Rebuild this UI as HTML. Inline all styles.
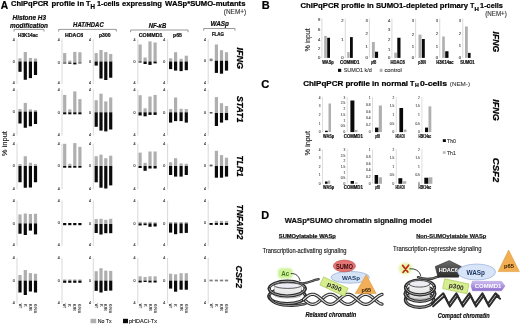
<!DOCTYPE html>
<html><head><meta charset="utf-8"><style>
html,body{margin:0;padding:0;background:#fff;}
svg{display:block;font-family:"Liberation Sans", sans-serif;filter:blur(0.35px);}
</style></head><body>
<svg width="520" height="325" viewBox="0 0 520 325">
<rect width="520" height="325" fill="#fff"/>
<text x="0.8" y="8.7" font-size="10.2" font-weight="bold" fill="#000" stroke="#000" stroke-width="0.22">A</text>
<text x="11.0" y="6.4" font-size="7.8" font-weight="bold" fill="#000" stroke="#000" stroke-width="0.22" textLength="37.5" lengthAdjust="spacingAndGlyphs">ChIPqPCR</text>
<text x="51.6" y="6.4" font-size="7.8" font-weight="bold" fill="#000" stroke="#000" stroke-width="0.22" textLength="32.5" lengthAdjust="spacingAndGlyphs">profile in</text>
<text x="86.0" y="6.4" font-size="7.8" font-weight="bold" fill="#000" stroke="#000" stroke-width="0.22" textLength="4.4" lengthAdjust="spacingAndGlyphs">T</text>
<text x="90.6" y="9.1" font-size="6.4" font-weight="bold" fill="#000" stroke="#000" stroke-width="0.22" textLength="4.5" lengthAdjust="spacingAndGlyphs">H</text>
<text x="97.0" y="6.4" font-size="7.8" font-weight="bold" fill="#000" stroke="#000" stroke-width="0.22" textLength="22.6" lengthAdjust="spacingAndGlyphs">1-cells</text>
<text x="122.0" y="6.4" font-size="7.8" font-weight="bold" fill="#000" stroke="#000" stroke-width="0.22" textLength="40.0" lengthAdjust="spacingAndGlyphs">expressing</text>
<text x="165.1" y="6.4" font-size="7.8" font-weight="bold" fill="#000" stroke="#000" stroke-width="0.22" textLength="80.3" lengthAdjust="spacingAndGlyphs">WASp*SUMO-mutants</text>
<text x="223.8" y="14.4" font-size="6.4" fill="#333" stroke="#333" stroke-width="0.12" textLength="22.4" lengthAdjust="spacingAndGlyphs">(NEM+)</text>
<text x="12.5" y="20.0" font-size="6.6" font-weight="bold" font-style="italic" fill="#111" stroke="#111" stroke-width="0.22" textLength="33.5" lengthAdjust="spacingAndGlyphs">Histone H3</text>
<text x="10.0" y="27.6" font-size="6.6" font-weight="bold" font-style="italic" fill="#111" stroke="#111" stroke-width="0.22" textLength="38" lengthAdjust="spacingAndGlyphs">modification</text>
<text x="73.1" y="27.3" font-size="6.6" font-weight="bold" font-style="italic" fill="#111" stroke="#111" stroke-width="0.22" textLength="30.6" lengthAdjust="spacingAndGlyphs">HAT/HDAC</text>
<text x="148.7" y="27.5" font-size="6.6" font-weight="bold" font-style="italic" fill="#111" stroke="#111" stroke-width="0.22" textLength="17.5" lengthAdjust="spacingAndGlyphs">NF-&#954;B</text>
<text x="210.6" y="26.4" font-size="6.6" font-weight="bold" font-style="italic" fill="#111" stroke="#111" stroke-width="0.22" textLength="18.4" lengthAdjust="spacingAndGlyphs">WASp</text>
<path d="M14,31.599999999999998 L14,29.4 L44,29.4 L44,31.599999999999998" fill="none" stroke="#555" stroke-width="0.6"/>
<path d="M58.7,31.599999999999998 L58.7,29.4 L116.3,29.4 L116.3,31.599999999999998" fill="none" stroke="#555" stroke-width="0.6"/>
<path d="M130.6,32.2 L130.6,30.0 L188.1,30.0 L188.1,32.2" fill="none" stroke="#555" stroke-width="0.6"/>
<path d="M203.7,30.7 L203.7,28.5 L235,28.5 L235,30.7" fill="none" stroke="#555" stroke-width="0.6"/>
<text x="18.0" y="36.6" font-size="5.0" font-weight="bold" fill="#111" stroke="#111" stroke-width="0.22" textLength="20" lengthAdjust="spacingAndGlyphs">H3K14ac</text>
<text x="65.0" y="36.8" font-size="5.0" font-weight="bold" fill="#111" stroke="#111" stroke-width="0.22" textLength="18.1" lengthAdjust="spacingAndGlyphs">HDAC6</text>
<text x="99.0" y="36.8" font-size="5.0" font-weight="bold" fill="#111" stroke="#111" stroke-width="0.22" textLength="11.6" lengthAdjust="spacingAndGlyphs">p300</text>
<text x="138.7" y="36.6" font-size="5.0" font-weight="bold" fill="#111" stroke="#111" stroke-width="0.22" textLength="23.8" lengthAdjust="spacingAndGlyphs">COMMD1</text>
<text x="173.1" y="36.6" font-size="5.0" font-weight="bold" fill="#111" stroke="#111" stroke-width="0.22" textLength="8.8" lengthAdjust="spacingAndGlyphs">p65</text>
<text x="211.9" y="36.2" font-size="5.0" font-weight="bold" fill="#111" stroke="#111" stroke-width="0.22" textLength="12.1" lengthAdjust="spacingAndGlyphs">FLAG</text>
<text transform="translate(236.6,47.5) rotate(90)" font-size="9.0" font-weight="bold" font-style="italic" fill="#000" stroke="#000" stroke-width="0.22" textLength="21.6" lengthAdjust="spacingAndGlyphs">IFNG</text>
<text transform="translate(236.6,96) rotate(90)" font-size="9.0" font-weight="bold" font-style="italic" fill="#000" stroke="#000" stroke-width="0.22" textLength="26.6" lengthAdjust="spacingAndGlyphs">STAT1</text>
<text transform="translate(236.9,155.4) rotate(90)" font-size="9.0" font-weight="bold" font-style="italic" fill="#000" stroke="#000" stroke-width="0.22" textLength="21.5" lengthAdjust="spacingAndGlyphs">TLR1</text>
<text transform="translate(236.9,204.5) rotate(90)" font-size="9.0" font-weight="bold" font-style="italic" fill="#000" stroke="#000" stroke-width="0.22" textLength="34.9" lengthAdjust="spacingAndGlyphs">TNFAIP2</text>
<text transform="translate(235.9,265.5) rotate(90)" font-size="9.0" font-weight="bold" font-style="italic" fill="#000" stroke="#000" stroke-width="0.22" textLength="22.7" lengthAdjust="spacingAndGlyphs">CSF2</text>
<text transform="translate(7.1,156.2) rotate(-90)" font-size="7.8" fill="#222" stroke="#222" stroke-width="0.12" textLength="25.0" lengthAdjust="spacingAndGlyphs">% input</text>
<line x1="17.0" y1="39.3" x2="17.0" y2="84.0" stroke="#c8c8c8" stroke-width="0.7"/>
<text x="12.7" y="40.699999999999996" font-size="3.6" fill="#333" stroke="#333" stroke-width="0.12">4</text>
<text x="12.7" y="62.9" font-size="3.6" fill="#333" stroke="#333" stroke-width="0.12">0</text>
<text x="12.7" y="84.4" font-size="3.6" fill="#333" stroke="#333" stroke-width="0.12">4</text>
<rect x="18.40" y="58.30" width="3.20" height="3.20" fill="#afafaf"/>
<rect x="18.40" y="61.50" width="3.20" height="10.30" fill="#0a0a0a"/>
<rect x="23.70" y="52.00" width="3.20" height="9.50" fill="#afafaf"/>
<rect x="23.70" y="61.50" width="3.20" height="18.25" fill="#0a0a0a"/>
<rect x="28.80" y="57.90" width="3.20" height="3.60" fill="#afafaf"/>
<rect x="28.80" y="61.50" width="3.20" height="16.60" fill="#0a0a0a"/>
<rect x="33.90" y="58.50" width="3.20" height="3.00" fill="#afafaf"/>
<rect x="33.90" y="61.50" width="3.20" height="13.50" fill="#0a0a0a"/>
<line x1="17.0" y1="89.6" x2="17.0" y2="135.5" stroke="#c8c8c8" stroke-width="0.7"/>
<text x="12.7" y="91.0" font-size="3.6" fill="#333" stroke="#333" stroke-width="0.12">4</text>
<text x="12.7" y="113.0" font-size="3.6" fill="#333" stroke="#333" stroke-width="0.12">0</text>
<text x="12.7" y="135.9" font-size="3.6" fill="#333" stroke="#333" stroke-width="0.12">4</text>
<rect x="18.40" y="109.00" width="3.20" height="2.60" fill="#afafaf"/>
<rect x="18.40" y="111.60" width="3.20" height="11.90" fill="#0a0a0a"/>
<rect x="23.70" y="102.90" width="3.20" height="8.70" fill="#afafaf"/>
<rect x="23.70" y="111.60" width="3.20" height="16.15" fill="#0a0a0a"/>
<rect x="28.80" y="109.40" width="3.20" height="2.20" fill="#afafaf"/>
<rect x="28.80" y="111.60" width="3.20" height="14.65" fill="#0a0a0a"/>
<rect x="33.90" y="110.00" width="3.20" height="1.60" fill="#afafaf"/>
<rect x="33.90" y="111.60" width="3.20" height="12.40" fill="#0a0a0a"/>
<line x1="17.0" y1="143.6" x2="17.0" y2="189.3" stroke="#c8c8c8" stroke-width="0.7"/>
<text x="12.7" y="145.0" font-size="3.6" fill="#333" stroke="#333" stroke-width="0.12">4</text>
<text x="12.7" y="167.4" font-size="3.6" fill="#333" stroke="#333" stroke-width="0.12">0</text>
<text x="12.7" y="189.70000000000002" font-size="3.6" fill="#333" stroke="#333" stroke-width="0.12">4</text>
<rect x="18.40" y="164.00" width="3.20" height="2.00" fill="#afafaf"/>
<rect x="18.40" y="166.00" width="3.20" height="16.25" fill="#0a0a0a"/>
<rect x="23.70" y="156.25" width="3.20" height="9.75" fill="#afafaf"/>
<rect x="23.70" y="166.00" width="3.20" height="21.75" fill="#0a0a0a"/>
<rect x="28.80" y="162.75" width="3.20" height="3.25" fill="#afafaf"/>
<rect x="28.80" y="166.00" width="3.20" height="21.50" fill="#0a0a0a"/>
<rect x="33.90" y="164.00" width="3.20" height="2.00" fill="#afafaf"/>
<rect x="33.90" y="166.00" width="3.20" height="16.25" fill="#0a0a0a"/>
<line x1="17.0" y1="200.6" x2="17.0" y2="245.8" stroke="#c8c8c8" stroke-width="0.7"/>
<text x="12.7" y="202.0" font-size="3.6" fill="#333" stroke="#333" stroke-width="0.12">4</text>
<text x="12.7" y="224.8" font-size="3.6" fill="#333" stroke="#333" stroke-width="0.12">0</text>
<text x="12.7" y="246.20000000000002" font-size="3.6" fill="#333" stroke="#333" stroke-width="0.12">4</text>
<rect x="18.40" y="214.40" width="3.20" height="9.00" fill="#afafaf"/>
<rect x="18.40" y="223.40" width="3.20" height="10.35" fill="#0a0a0a"/>
<rect x="23.70" y="213.50" width="3.20" height="9.90" fill="#afafaf"/>
<rect x="23.70" y="223.40" width="3.20" height="11.60" fill="#0a0a0a"/>
<rect x="28.80" y="214.00" width="3.20" height="9.40" fill="#afafaf"/>
<rect x="28.80" y="223.40" width="3.20" height="7.20" fill="#0a0a0a"/>
<rect x="33.90" y="213.75" width="3.20" height="9.65" fill="#afafaf"/>
<rect x="33.90" y="223.40" width="3.20" height="11.00" fill="#0a0a0a"/>
<line x1="17.0" y1="258.0" x2="17.0" y2="303.5" stroke="#c8c8c8" stroke-width="0.7"/>
<text x="12.7" y="259.4" font-size="3.6" fill="#333" stroke="#333" stroke-width="0.12">4</text>
<text x="12.7" y="282.0" font-size="3.6" fill="#333" stroke="#333" stroke-width="0.12">0</text>
<text x="12.7" y="303.9" font-size="3.6" fill="#333" stroke="#333" stroke-width="0.12">4</text>
<rect x="18.40" y="275.00" width="3.20" height="5.60" fill="#afafaf"/>
<rect x="18.40" y="280.60" width="3.20" height="11.90" fill="#0a0a0a"/>
<rect x="23.70" y="270.00" width="3.20" height="10.60" fill="#afafaf"/>
<rect x="23.70" y="280.60" width="3.20" height="14.40" fill="#0a0a0a"/>
<rect x="28.80" y="273.10" width="3.20" height="7.50" fill="#afafaf"/>
<rect x="28.80" y="280.60" width="3.20" height="10.90" fill="#0a0a0a"/>
<rect x="33.90" y="273.75" width="3.20" height="6.85" fill="#afafaf"/>
<rect x="33.90" y="280.60" width="3.20" height="11.90" fill="#0a0a0a"/>
<line x1="62.0" y1="39.3" x2="62.0" y2="84.0" stroke="#c8c8c8" stroke-width="0.7"/>
<text x="57.7" y="40.699999999999996" font-size="3.6" fill="#333" stroke="#333" stroke-width="0.12">4</text>
<text x="57.7" y="64.0" font-size="3.6" fill="#333" stroke="#333" stroke-width="0.12">0</text>
<text x="57.7" y="84.4" font-size="3.6" fill="#333" stroke="#333" stroke-width="0.12">4</text>
<rect x="63.10" y="53.10" width="3.20" height="9.50" fill="#afafaf"/>
<rect x="63.10" y="62.60" width="3.20" height="0.90" fill="#0a0a0a"/>
<rect x="68.20" y="60.60" width="3.20" height="2.00" fill="#afafaf"/>
<rect x="68.20" y="62.60" width="3.20" height="1.15" fill="#0a0a0a"/>
<rect x="73.20" y="51.90" width="3.20" height="10.70" fill="#afafaf"/>
<rect x="73.20" y="62.60" width="3.20" height="1.80" fill="#0a0a0a"/>
<rect x="78.30" y="52.25" width="3.20" height="10.35" fill="#afafaf"/>
<rect x="78.30" y="62.60" width="3.20" height="0.80" fill="#0a0a0a"/>
<line x1="62.0" y1="89.6" x2="62.0" y2="135.5" stroke="#c8c8c8" stroke-width="0.7"/>
<text x="57.7" y="91.0" font-size="3.6" fill="#333" stroke="#333" stroke-width="0.12">4</text>
<text x="57.7" y="113.7" font-size="3.6" fill="#333" stroke="#333" stroke-width="0.12">0</text>
<text x="57.7" y="135.9" font-size="3.6" fill="#333" stroke="#333" stroke-width="0.12">4</text>
<rect x="63.10" y="94.90" width="3.20" height="17.40" fill="#afafaf"/>
<rect x="63.10" y="112.30" width="3.20" height="2.00" fill="#0a0a0a"/>
<rect x="68.20" y="109.40" width="3.20" height="2.90" fill="#afafaf"/>
<rect x="68.20" y="112.30" width="3.20" height="2.00" fill="#0a0a0a"/>
<rect x="73.20" y="91.40" width="3.20" height="20.90" fill="#afafaf"/>
<rect x="73.20" y="112.30" width="3.20" height="2.00" fill="#0a0a0a"/>
<rect x="78.30" y="99.10" width="3.20" height="13.20" fill="#afafaf"/>
<rect x="78.30" y="112.30" width="3.20" height="2.00" fill="#0a0a0a"/>
<line x1="62.0" y1="143.6" x2="62.0" y2="189.3" stroke="#c8c8c8" stroke-width="0.7"/>
<text x="57.7" y="145.0" font-size="3.6" fill="#333" stroke="#333" stroke-width="0.12">4</text>
<text x="57.7" y="167.4" font-size="3.6" fill="#333" stroke="#333" stroke-width="0.12">0</text>
<text x="57.7" y="189.70000000000002" font-size="3.6" fill="#333" stroke="#333" stroke-width="0.12">4</text>
<rect x="63.10" y="143.80" width="3.20" height="22.20" fill="#afafaf"/>
<rect x="63.10" y="166.00" width="3.20" height="1.70" fill="#0a0a0a"/>
<rect x="68.20" y="163.80" width="3.20" height="2.20" fill="#afafaf"/>
<rect x="68.20" y="166.00" width="3.20" height="1.70" fill="#0a0a0a"/>
<rect x="73.20" y="143.10" width="3.20" height="22.90" fill="#afafaf"/>
<rect x="73.20" y="166.00" width="3.20" height="1.70" fill="#0a0a0a"/>
<rect x="78.30" y="146.90" width="3.20" height="19.10" fill="#afafaf"/>
<rect x="78.30" y="166.00" width="3.20" height="1.70" fill="#0a0a0a"/>
<line x1="62.0" y1="200.6" x2="62.0" y2="245.8" stroke="#c8c8c8" stroke-width="0.7"/>
<text x="57.7" y="202.0" font-size="3.6" fill="#333" stroke="#333" stroke-width="0.12">4</text>
<text x="57.7" y="224.4" font-size="3.6" fill="#333" stroke="#333" stroke-width="0.12">0</text>
<text x="57.7" y="246.20000000000002" font-size="3.6" fill="#333" stroke="#333" stroke-width="0.12">4</text>
<rect x="63.10" y="223.00" width="3.20" height="2.20" fill="#0a0a0a"/>
<rect x="68.20" y="223.00" width="3.20" height="2.20" fill="#0a0a0a"/>
<rect x="73.20" y="223.00" width="3.20" height="2.20" fill="#0a0a0a"/>
<rect x="78.30" y="223.00" width="3.20" height="2.20" fill="#0a0a0a"/>
<line x1="62.0" y1="258.0" x2="62.0" y2="303.5" stroke="#c8c8c8" stroke-width="0.7"/>
<text x="57.7" y="259.4" font-size="3.6" fill="#333" stroke="#333" stroke-width="0.12">4</text>
<text x="57.7" y="282.0" font-size="3.6" fill="#333" stroke="#333" stroke-width="0.12">0</text>
<text x="57.7" y="303.9" font-size="3.6" fill="#333" stroke="#333" stroke-width="0.12">4</text>
<rect x="63.10" y="279.40" width="3.20" height="1.20" fill="#afafaf"/>
<rect x="63.10" y="280.60" width="3.20" height="2.20" fill="#0a0a0a"/>
<rect x="68.20" y="279.40" width="3.20" height="1.20" fill="#afafaf"/>
<rect x="68.20" y="280.60" width="3.20" height="2.20" fill="#0a0a0a"/>
<rect x="73.20" y="279.40" width="3.20" height="1.20" fill="#afafaf"/>
<rect x="73.20" y="280.60" width="3.20" height="2.20" fill="#0a0a0a"/>
<rect x="78.30" y="279.40" width="3.20" height="1.20" fill="#afafaf"/>
<rect x="78.30" y="280.60" width="3.20" height="2.20" fill="#0a0a0a"/>
<line x1="93.3" y1="39.3" x2="93.3" y2="84.0" stroke="#c8c8c8" stroke-width="0.7"/>
<text x="89.0" y="40.699999999999996" font-size="3.6" fill="#333" stroke="#333" stroke-width="0.12">4</text>
<text x="89.0" y="62.9" font-size="3.6" fill="#333" stroke="#333" stroke-width="0.12">0</text>
<text x="89.0" y="84.4" font-size="3.6" fill="#333" stroke="#333" stroke-width="0.12">4</text>
<rect x="94.60" y="53.10" width="3.20" height="8.40" fill="#afafaf"/>
<rect x="94.60" y="61.50" width="3.20" height="4.10" fill="#0a0a0a"/>
<rect x="99.40" y="50.00" width="3.20" height="11.50" fill="#afafaf"/>
<rect x="99.40" y="61.50" width="3.20" height="17.00" fill="#0a0a0a"/>
<rect x="104.20" y="52.10" width="3.20" height="9.40" fill="#afafaf"/>
<rect x="104.20" y="61.50" width="3.20" height="18.50" fill="#0a0a0a"/>
<rect x="109.10" y="54.00" width="3.20" height="7.50" fill="#afafaf"/>
<rect x="109.10" y="61.50" width="3.20" height="16.25" fill="#0a0a0a"/>
<line x1="93.3" y1="89.6" x2="93.3" y2="135.5" stroke="#c8c8c8" stroke-width="0.7"/>
<text x="89.0" y="91.0" font-size="3.6" fill="#333" stroke="#333" stroke-width="0.12">4</text>
<text x="89.0" y="113.7" font-size="3.6" fill="#333" stroke="#333" stroke-width="0.12">0</text>
<text x="89.0" y="135.9" font-size="3.6" fill="#333" stroke="#333" stroke-width="0.12">4</text>
<rect x="94.60" y="100.20" width="3.20" height="12.10" fill="#afafaf"/>
<rect x="94.60" y="112.30" width="3.20" height="14.50" fill="#0a0a0a"/>
<rect x="99.40" y="93.70" width="3.20" height="18.60" fill="#afafaf"/>
<rect x="99.40" y="112.30" width="3.20" height="18.30" fill="#0a0a0a"/>
<rect x="104.20" y="101.40" width="3.20" height="10.90" fill="#afafaf"/>
<rect x="104.20" y="112.30" width="3.20" height="19.10" fill="#0a0a0a"/>
<rect x="109.10" y="97.50" width="3.20" height="14.80" fill="#afafaf"/>
<rect x="109.10" y="112.30" width="3.20" height="17.20" fill="#0a0a0a"/>
<line x1="93.3" y1="143.6" x2="93.3" y2="189.3" stroke="#c8c8c8" stroke-width="0.7"/>
<text x="89.0" y="145.0" font-size="3.6" fill="#333" stroke="#333" stroke-width="0.12">4</text>
<text x="89.0" y="167.4" font-size="3.6" fill="#333" stroke="#333" stroke-width="0.12">0</text>
<text x="89.0" y="189.70000000000002" font-size="3.6" fill="#333" stroke="#333" stroke-width="0.12">4</text>
<rect x="94.60" y="156.20" width="3.20" height="9.80" fill="#afafaf"/>
<rect x="94.60" y="166.00" width="3.20" height="16.30" fill="#0a0a0a"/>
<rect x="99.40" y="154.60" width="3.20" height="11.40" fill="#afafaf"/>
<rect x="99.40" y="166.00" width="3.20" height="21.70" fill="#0a0a0a"/>
<rect x="104.20" y="158.20" width="3.20" height="7.80" fill="#afafaf"/>
<rect x="104.20" y="166.00" width="3.20" height="22.50" fill="#0a0a0a"/>
<rect x="109.10" y="155.70" width="3.20" height="10.30" fill="#afafaf"/>
<rect x="109.10" y="166.00" width="3.20" height="19.40" fill="#0a0a0a"/>
<line x1="93.3" y1="200.6" x2="93.3" y2="245.8" stroke="#c8c8c8" stroke-width="0.7"/>
<text x="89.0" y="202.0" font-size="3.6" fill="#333" stroke="#333" stroke-width="0.12">4</text>
<text x="89.0" y="225.4" font-size="3.6" fill="#333" stroke="#333" stroke-width="0.12">0</text>
<text x="89.0" y="246.20000000000002" font-size="3.6" fill="#333" stroke="#333" stroke-width="0.12">4</text>
<rect x="94.60" y="219.00" width="3.20" height="5.00" fill="#afafaf"/>
<rect x="94.60" y="224.00" width="3.20" height="9.00" fill="#0a0a0a"/>
<rect x="99.40" y="218.80" width="3.20" height="5.20" fill="#afafaf"/>
<rect x="99.40" y="224.00" width="3.20" height="10.50" fill="#0a0a0a"/>
<rect x="104.20" y="219.80" width="3.20" height="4.20" fill="#afafaf"/>
<rect x="104.20" y="224.00" width="3.20" height="9.20" fill="#0a0a0a"/>
<rect x="109.10" y="218.80" width="3.20" height="5.20" fill="#afafaf"/>
<rect x="109.10" y="224.00" width="3.20" height="9.20" fill="#0a0a0a"/>
<line x1="93.3" y1="258.0" x2="93.3" y2="303.5" stroke="#c8c8c8" stroke-width="0.7"/>
<text x="89.0" y="259.4" font-size="3.6" fill="#333" stroke="#333" stroke-width="0.12">4</text>
<text x="89.0" y="282.0" font-size="3.6" fill="#333" stroke="#333" stroke-width="0.12">0</text>
<text x="89.0" y="303.9" font-size="3.6" fill="#333" stroke="#333" stroke-width="0.12">4</text>
<rect x="94.60" y="271.20" width="3.20" height="9.40" fill="#afafaf"/>
<rect x="94.60" y="280.60" width="3.20" height="10.30" fill="#0a0a0a"/>
<rect x="99.40" y="268.20" width="3.20" height="12.40" fill="#afafaf"/>
<rect x="99.40" y="280.60" width="3.20" height="11.90" fill="#0a0a0a"/>
<rect x="104.20" y="270.60" width="3.20" height="10.00" fill="#afafaf"/>
<rect x="104.20" y="280.60" width="3.20" height="10.30" fill="#0a0a0a"/>
<rect x="109.10" y="270.90" width="3.20" height="9.70" fill="#afafaf"/>
<rect x="109.10" y="280.60" width="3.20" height="10.00" fill="#0a0a0a"/>
<line x1="137.8" y1="39.3" x2="137.8" y2="84.0" stroke="#c8c8c8" stroke-width="0.7"/>
<text x="133.5" y="40.699999999999996" font-size="3.6" fill="#333" stroke="#333" stroke-width="0.12">4</text>
<text x="133.5" y="62.9" font-size="3.6" fill="#333" stroke="#333" stroke-width="0.12">0</text>
<text x="133.5" y="84.4" font-size="3.6" fill="#333" stroke="#333" stroke-width="0.12">4</text>
<rect x="138.50" y="44.50" width="3.20" height="17.00" fill="#afafaf"/>
<rect x="138.50" y="61.50" width="3.20" height="1.00" fill="#0a0a0a"/>
<rect x="143.50" y="57.50" width="3.20" height="4.00" fill="#afafaf"/>
<rect x="143.50" y="61.50" width="3.20" height="2.50" fill="#0a0a0a"/>
<rect x="148.40" y="41.40" width="3.20" height="20.10" fill="#afafaf"/>
<rect x="148.40" y="61.50" width="3.20" height="3.40" fill="#0a0a0a"/>
<rect x="153.50" y="42.50" width="3.20" height="19.00" fill="#afafaf"/>
<rect x="153.50" y="61.50" width="3.20" height="1.90" fill="#0a0a0a"/>
<line x1="137.8" y1="89.6" x2="137.8" y2="135.5" stroke="#c8c8c8" stroke-width="0.7"/>
<text x="133.5" y="91.0" font-size="3.6" fill="#333" stroke="#333" stroke-width="0.12">4</text>
<text x="133.5" y="113.7" font-size="3.6" fill="#333" stroke="#333" stroke-width="0.12">0</text>
<text x="133.5" y="135.9" font-size="3.6" fill="#333" stroke="#333" stroke-width="0.12">4</text>
<rect x="138.50" y="95.20" width="3.20" height="17.10" fill="#afafaf"/>
<rect x="138.50" y="112.30" width="3.20" height="3.20" fill="#0a0a0a"/>
<rect x="143.50" y="108.30" width="3.20" height="4.00" fill="#afafaf"/>
<rect x="143.50" y="112.30" width="3.20" height="4.00" fill="#0a0a0a"/>
<rect x="148.40" y="96.50" width="3.20" height="15.80" fill="#afafaf"/>
<rect x="148.40" y="112.30" width="3.20" height="2.60" fill="#0a0a0a"/>
<rect x="153.50" y="94.90" width="3.20" height="17.40" fill="#afafaf"/>
<rect x="153.50" y="112.30" width="3.20" height="2.60" fill="#0a0a0a"/>
<line x1="137.8" y1="143.6" x2="137.8" y2="189.3" stroke="#c8c8c8" stroke-width="0.7"/>
<text x="133.5" y="145.0" font-size="3.6" fill="#333" stroke="#333" stroke-width="0.12">4</text>
<text x="133.5" y="167.4" font-size="3.6" fill="#333" stroke="#333" stroke-width="0.12">0</text>
<text x="133.5" y="189.70000000000002" font-size="3.6" fill="#333" stroke="#333" stroke-width="0.12">4</text>
<rect x="138.50" y="152.60" width="3.20" height="13.40" fill="#afafaf"/>
<rect x="138.50" y="166.00" width="3.20" height="2.00" fill="#0a0a0a"/>
<rect x="143.50" y="162.80" width="3.20" height="3.20" fill="#afafaf"/>
<rect x="143.50" y="166.00" width="3.20" height="4.80" fill="#0a0a0a"/>
<rect x="148.40" y="151.50" width="3.20" height="14.50" fill="#afafaf"/>
<rect x="148.40" y="166.00" width="3.20" height="2.50" fill="#0a0a0a"/>
<rect x="153.50" y="151.50" width="3.20" height="14.50" fill="#afafaf"/>
<rect x="153.50" y="166.00" width="3.20" height="2.50" fill="#0a0a0a"/>
<line x1="137.8" y1="200.6" x2="137.8" y2="245.8" stroke="#c8c8c8" stroke-width="0.7"/>
<text x="133.5" y="202.0" font-size="3.6" fill="#333" stroke="#333" stroke-width="0.12">4</text>
<text x="133.5" y="224.8" font-size="3.6" fill="#333" stroke="#333" stroke-width="0.12">0</text>
<text x="133.5" y="246.20000000000002" font-size="3.6" fill="#333" stroke="#333" stroke-width="0.12">4</text>
<rect x="138.50" y="221.80" width="3.20" height="1.60" fill="#afafaf"/>
<rect x="138.50" y="223.40" width="3.20" height="2.10" fill="#0a0a0a"/>
<rect x="143.50" y="222.20" width="3.20" height="1.20" fill="#afafaf"/>
<rect x="143.50" y="223.40" width="3.20" height="1.80" fill="#0a0a0a"/>
<rect x="148.40" y="221.80" width="3.20" height="1.60" fill="#afafaf"/>
<rect x="148.40" y="223.40" width="3.20" height="3.40" fill="#0a0a0a"/>
<rect x="153.50" y="222.20" width="3.20" height="1.20" fill="#afafaf"/>
<rect x="153.50" y="223.40" width="3.20" height="3.10" fill="#0a0a0a"/>
<line x1="137.8" y1="258.0" x2="137.8" y2="303.5" stroke="#c8c8c8" stroke-width="0.7"/>
<text x="133.5" y="259.4" font-size="3.6" fill="#333" stroke="#333" stroke-width="0.12">4</text>
<text x="133.5" y="282.0" font-size="3.6" fill="#333" stroke="#333" stroke-width="0.12">0</text>
<text x="133.5" y="303.9" font-size="3.6" fill="#333" stroke="#333" stroke-width="0.12">4</text>
<rect x="138.50" y="276.30" width="3.20" height="4.30" fill="#afafaf"/>
<rect x="138.50" y="280.60" width="3.20" height="1.90" fill="#0a0a0a"/>
<rect x="143.50" y="277.00" width="3.20" height="3.60" fill="#afafaf"/>
<rect x="143.50" y="280.60" width="3.20" height="1.40" fill="#0a0a0a"/>
<rect x="148.40" y="276.30" width="3.20" height="4.30" fill="#afafaf"/>
<rect x="148.40" y="280.60" width="3.20" height="1.90" fill="#0a0a0a"/>
<rect x="153.50" y="276.30" width="3.20" height="4.30" fill="#afafaf"/>
<rect x="153.50" y="280.60" width="3.20" height="1.90" fill="#0a0a0a"/>
<line x1="167.6" y1="39.3" x2="167.6" y2="84.0" stroke="#c8c8c8" stroke-width="0.7"/>
<text x="163.29999999999998" y="40.699999999999996" font-size="3.6" fill="#333" stroke="#333" stroke-width="0.12">4</text>
<text x="163.29999999999998" y="62.9" font-size="3.6" fill="#333" stroke="#333" stroke-width="0.12">0</text>
<text x="163.29999999999998" y="84.4" font-size="3.6" fill="#333" stroke="#333" stroke-width="0.12">4</text>
<rect x="169.00" y="58.30" width="3.20" height="3.20" fill="#afafaf"/>
<rect x="169.00" y="61.50" width="3.20" height="7.60" fill="#0a0a0a"/>
<rect x="174.00" y="52.20" width="3.20" height="9.30" fill="#afafaf"/>
<rect x="174.00" y="61.50" width="3.20" height="9.10" fill="#0a0a0a"/>
<rect x="179.50" y="58.80" width="3.20" height="2.70" fill="#afafaf"/>
<rect x="179.50" y="61.50" width="3.20" height="9.60" fill="#0a0a0a"/>
<rect x="184.70" y="55.70" width="3.20" height="5.80" fill="#afafaf"/>
<rect x="184.70" y="61.50" width="3.20" height="8.70" fill="#0a0a0a"/>
<line x1="167.6" y1="89.6" x2="167.6" y2="135.5" stroke="#c8c8c8" stroke-width="0.7"/>
<text x="163.29999999999998" y="91.0" font-size="3.6" fill="#333" stroke="#333" stroke-width="0.12">4</text>
<text x="163.29999999999998" y="113.7" font-size="3.6" fill="#333" stroke="#333" stroke-width="0.12">0</text>
<text x="163.29999999999998" y="135.9" font-size="3.6" fill="#333" stroke="#333" stroke-width="0.12">4</text>
<rect x="169.00" y="109.10" width="3.20" height="3.20" fill="#afafaf"/>
<rect x="169.00" y="112.30" width="3.20" height="10.30" fill="#0a0a0a"/>
<rect x="174.00" y="97.50" width="3.20" height="14.80" fill="#afafaf"/>
<rect x="174.00" y="112.30" width="3.20" height="8.80" fill="#0a0a0a"/>
<rect x="179.50" y="108.80" width="3.20" height="3.50" fill="#afafaf"/>
<rect x="179.50" y="112.30" width="3.20" height="8.80" fill="#0a0a0a"/>
<rect x="184.70" y="109.10" width="3.20" height="3.20" fill="#afafaf"/>
<rect x="184.70" y="112.30" width="3.20" height="10.30" fill="#0a0a0a"/>
<line x1="167.6" y1="143.6" x2="167.6" y2="189.3" stroke="#c8c8c8" stroke-width="0.7"/>
<text x="163.29999999999998" y="145.0" font-size="3.6" fill="#333" stroke="#333" stroke-width="0.12">4</text>
<text x="163.29999999999998" y="167.4" font-size="3.6" fill="#333" stroke="#333" stroke-width="0.12">0</text>
<text x="163.29999999999998" y="189.70000000000002" font-size="3.6" fill="#333" stroke="#333" stroke-width="0.12">4</text>
<rect x="169.00" y="162.30" width="3.20" height="3.70" fill="#afafaf"/>
<rect x="169.00" y="166.00" width="3.20" height="9.00" fill="#0a0a0a"/>
<rect x="174.00" y="158.20" width="3.20" height="7.80" fill="#afafaf"/>
<rect x="174.00" y="166.00" width="3.20" height="10.60" fill="#0a0a0a"/>
<rect x="179.50" y="163.40" width="3.20" height="2.60" fill="#afafaf"/>
<rect x="179.50" y="166.00" width="3.20" height="10.60" fill="#0a0a0a"/>
<rect x="184.70" y="163.80" width="3.20" height="2.20" fill="#afafaf"/>
<rect x="184.70" y="166.00" width="3.20" height="9.00" fill="#0a0a0a"/>
<line x1="167.6" y1="200.6" x2="167.6" y2="245.8" stroke="#c8c8c8" stroke-width="0.7"/>
<text x="163.29999999999998" y="202.0" font-size="3.6" fill="#333" stroke="#333" stroke-width="0.12">4</text>
<text x="163.29999999999998" y="224.8" font-size="3.6" fill="#333" stroke="#333" stroke-width="0.12">0</text>
<text x="163.29999999999998" y="246.20000000000002" font-size="3.6" fill="#333" stroke="#333" stroke-width="0.12">4</text>
<rect x="169.00" y="222.00" width="3.20" height="1.40" fill="#afafaf"/>
<rect x="169.00" y="223.40" width="3.20" height="9.20" fill="#0a0a0a"/>
<rect x="174.00" y="222.00" width="3.20" height="1.40" fill="#afafaf"/>
<rect x="174.00" y="223.40" width="3.20" height="10.80" fill="#0a0a0a"/>
<rect x="179.50" y="222.00" width="3.20" height="1.40" fill="#afafaf"/>
<rect x="179.50" y="223.40" width="3.20" height="9.80" fill="#0a0a0a"/>
<rect x="184.70" y="222.00" width="3.20" height="1.40" fill="#afafaf"/>
<rect x="184.70" y="223.40" width="3.20" height="9.50" fill="#0a0a0a"/>
<line x1="167.6" y1="258.0" x2="167.6" y2="303.5" stroke="#c8c8c8" stroke-width="0.7"/>
<text x="163.29999999999998" y="259.4" font-size="3.6" fill="#333" stroke="#333" stroke-width="0.12">4</text>
<text x="163.29999999999998" y="282.0" font-size="3.6" fill="#333" stroke="#333" stroke-width="0.12">0</text>
<text x="163.29999999999998" y="303.9" font-size="3.6" fill="#333" stroke="#333" stroke-width="0.12">4</text>
<rect x="169.00" y="273.70" width="3.20" height="6.90" fill="#afafaf"/>
<rect x="169.00" y="280.60" width="3.20" height="8.00" fill="#0a0a0a"/>
<rect x="174.00" y="274.30" width="3.20" height="6.30" fill="#afafaf"/>
<rect x="174.00" y="280.60" width="3.20" height="11.10" fill="#0a0a0a"/>
<rect x="179.50" y="273.20" width="3.20" height="7.40" fill="#afafaf"/>
<rect x="179.50" y="280.60" width="3.20" height="9.10" fill="#0a0a0a"/>
<rect x="184.70" y="273.20" width="3.20" height="7.40" fill="#afafaf"/>
<rect x="184.70" y="280.60" width="3.20" height="9.10" fill="#0a0a0a"/>
<line x1="208.2" y1="39.3" x2="208.2" y2="84.0" stroke="#c8c8c8" stroke-width="0.7"/>
<text x="203.89999999999998" y="40.699999999999996" font-size="3.6" fill="#333" stroke="#333" stroke-width="0.12">4</text>
<text x="203.89999999999998" y="62.1" font-size="3.6" fill="#333" stroke="#333" stroke-width="0.12">0</text>
<text x="203.89999999999998" y="84.4" font-size="3.6" fill="#333" stroke="#333" stroke-width="0.12">4</text>
<rect x="209.50" y="58.6" width="3.2" height="2.60" rx="1" fill="#8a8a8a"/>
<rect x="214.80" y="44.50" width="3.20" height="16.20" fill="#afafaf"/>
<rect x="214.80" y="60.70" width="3.20" height="12.20" fill="#0a0a0a"/>
<rect x="219.90" y="50.20" width="3.20" height="10.50" fill="#afafaf"/>
<rect x="219.90" y="60.70" width="3.20" height="13.00" fill="#0a0a0a"/>
<rect x="224.90" y="52.20" width="3.20" height="8.50" fill="#afafaf"/>
<rect x="224.90" y="60.70" width="3.20" height="9.90" fill="#0a0a0a"/>
<line x1="208.2" y1="89.6" x2="208.2" y2="135.5" stroke="#c8c8c8" stroke-width="0.7"/>
<text x="203.89999999999998" y="91.0" font-size="3.6" fill="#333" stroke="#333" stroke-width="0.12">4</text>
<text x="203.89999999999998" y="114.4" font-size="3.6" fill="#333" stroke="#333" stroke-width="0.12">0</text>
<text x="203.89999999999998" y="135.9" font-size="3.6" fill="#333" stroke="#333" stroke-width="0.12">4</text>
<rect x="209.50" y="111.9" width="3.2" height="1.70" rx="1" fill="#555"/>
<rect x="214.80" y="97.10" width="3.20" height="15.90" fill="#afafaf"/>
<rect x="214.80" y="113.00" width="3.20" height="13.00" fill="#0a0a0a"/>
<rect x="219.90" y="103.20" width="3.20" height="9.80" fill="#afafaf"/>
<rect x="219.90" y="113.00" width="3.20" height="9.60" fill="#0a0a0a"/>
<rect x="224.90" y="106.00" width="3.20" height="7.00" fill="#afafaf"/>
<rect x="224.90" y="113.00" width="3.20" height="7.20" fill="#0a0a0a"/>
<line x1="208.2" y1="143.6" x2="208.2" y2="189.3" stroke="#c8c8c8" stroke-width="0.7"/>
<text x="203.89999999999998" y="145.0" font-size="3.6" fill="#333" stroke="#333" stroke-width="0.12">4</text>
<text x="203.89999999999998" y="167.4" font-size="3.6" fill="#333" stroke="#333" stroke-width="0.12">0</text>
<text x="203.89999999999998" y="189.70000000000002" font-size="3.6" fill="#333" stroke="#333" stroke-width="0.12">4</text>
<rect x="209.50" y="164.6" width="3.2" height="2.00" rx="1" fill="#666"/>
<rect x="214.80" y="150.80" width="3.20" height="15.20" fill="#afafaf"/>
<rect x="214.80" y="166.00" width="3.20" height="11.70" fill="#0a0a0a"/>
<rect x="219.90" y="155.10" width="3.20" height="10.90" fill="#afafaf"/>
<rect x="219.90" y="166.00" width="3.20" height="11.70" fill="#0a0a0a"/>
<rect x="224.90" y="157.70" width="3.20" height="8.30" fill="#afafaf"/>
<rect x="224.90" y="166.00" width="3.20" height="10.60" fill="#0a0a0a"/>
<line x1="208.2" y1="200.6" x2="208.2" y2="245.8" stroke="#c8c8c8" stroke-width="0.7"/>
<text x="203.89999999999998" y="202.0" font-size="3.6" fill="#333" stroke="#333" stroke-width="0.12">4</text>
<text x="203.89999999999998" y="224.4" font-size="3.6" fill="#333" stroke="#333" stroke-width="0.12">0</text>
<text x="203.89999999999998" y="246.20000000000002" font-size="3.6" fill="#333" stroke="#333" stroke-width="0.12">4</text>
<rect x="209.50" y="223.00" width="3.20" height="1.90" fill="#0a0a0a"/>
<rect x="214.80" y="220.90" width="3.20" height="2.10" fill="#afafaf"/>
<rect x="214.80" y="223.00" width="3.20" height="1.90" fill="#0a0a0a"/>
<rect x="219.90" y="220.90" width="3.20" height="2.10" fill="#afafaf"/>
<rect x="219.90" y="223.00" width="3.20" height="1.90" fill="#0a0a0a"/>
<rect x="224.90" y="220.90" width="3.20" height="2.10" fill="#afafaf"/>
<rect x="224.90" y="223.00" width="3.20" height="1.90" fill="#0a0a0a"/>
<line x1="208.2" y1="258.0" x2="208.2" y2="303.5" stroke="#c8c8c8" stroke-width="0.7"/>
<text x="203.89999999999998" y="259.4" font-size="3.6" fill="#333" stroke="#333" stroke-width="0.12">4</text>
<text x="203.89999999999998" y="282.0" font-size="3.6" fill="#333" stroke="#333" stroke-width="0.12">0</text>
<text x="203.89999999999998" y="303.9" font-size="3.6" fill="#333" stroke="#333" stroke-width="0.12">4</text>
<rect x="209.50" y="279.40" width="3.20" height="1.20" fill="#afafaf"/>
<rect x="209.50" y="280.60" width="3.20" height="0.60" fill="#0a0a0a"/>
<rect x="214.80" y="279.40" width="3.20" height="1.20" fill="#afafaf"/>
<rect x="214.80" y="280.60" width="3.20" height="0.60" fill="#0a0a0a"/>
<rect x="219.90" y="279.40" width="3.20" height="1.20" fill="#afafaf"/>
<rect x="219.90" y="280.60" width="3.20" height="0.60" fill="#0a0a0a"/>
<rect x="224.90" y="279.40" width="3.20" height="1.20" fill="#afafaf"/>
<rect x="224.90" y="280.60" width="3.20" height="0.60" fill="#0a0a0a"/>
<text transform="translate(18.5,303.8) rotate(90)" font-size="4.2" fill="#444" stroke="#444" stroke-width="0.12" textLength="4.6" lengthAdjust="spacingAndGlyphs">WT</text>
<text transform="translate(23.8,303.8) rotate(90)" font-size="4.2" fill="#444" stroke="#444" stroke-width="0.12" textLength="3.1" lengthAdjust="spacingAndGlyphs">K</text>
<text transform="translate(28.900000000000002,303.8) rotate(90)" font-size="4.2" fill="#444" stroke="#444" stroke-width="0.12" textLength="7.1" lengthAdjust="spacingAndGlyphs">K/R</text>
<text transform="translate(34.0,303.8) rotate(90)" font-size="4.2" fill="#444" stroke="#444" stroke-width="0.12" textLength="9.2" lengthAdjust="spacingAndGlyphs">K/R/A</text>
<text transform="translate(63.2,303.8) rotate(90)" font-size="4.2" fill="#444" stroke="#444" stroke-width="0.12" textLength="4.6" lengthAdjust="spacingAndGlyphs">WT</text>
<text transform="translate(68.3,303.8) rotate(90)" font-size="4.2" fill="#444" stroke="#444" stroke-width="0.12" textLength="3.1" lengthAdjust="spacingAndGlyphs">K</text>
<text transform="translate(73.3,303.8) rotate(90)" font-size="4.2" fill="#444" stroke="#444" stroke-width="0.12" textLength="7.1" lengthAdjust="spacingAndGlyphs">K/R</text>
<text transform="translate(78.39999999999999,303.8) rotate(90)" font-size="4.2" fill="#444" stroke="#444" stroke-width="0.12" textLength="9.2" lengthAdjust="spacingAndGlyphs">K/R/A</text>
<text transform="translate(94.69999999999999,303.8) rotate(90)" font-size="4.2" fill="#444" stroke="#444" stroke-width="0.12" textLength="4.6" lengthAdjust="spacingAndGlyphs">WT</text>
<text transform="translate(99.5,303.8) rotate(90)" font-size="4.2" fill="#444" stroke="#444" stroke-width="0.12" textLength="3.1" lengthAdjust="spacingAndGlyphs">K</text>
<text transform="translate(104.3,303.8) rotate(90)" font-size="4.2" fill="#444" stroke="#444" stroke-width="0.12" textLength="7.1" lengthAdjust="spacingAndGlyphs">K/R</text>
<text transform="translate(109.19999999999999,303.8) rotate(90)" font-size="4.2" fill="#444" stroke="#444" stroke-width="0.12" textLength="9.2" lengthAdjust="spacingAndGlyphs">K/R/A</text>
<text transform="translate(138.6,303.8) rotate(90)" font-size="4.2" fill="#444" stroke="#444" stroke-width="0.12" textLength="4.6" lengthAdjust="spacingAndGlyphs">WT</text>
<text transform="translate(143.6,303.8) rotate(90)" font-size="4.2" fill="#444" stroke="#444" stroke-width="0.12" textLength="3.1" lengthAdjust="spacingAndGlyphs">K</text>
<text transform="translate(148.5,303.8) rotate(90)" font-size="4.2" fill="#444" stroke="#444" stroke-width="0.12" textLength="7.1" lengthAdjust="spacingAndGlyphs">K/R</text>
<text transform="translate(153.6,303.8) rotate(90)" font-size="4.2" fill="#444" stroke="#444" stroke-width="0.12" textLength="9.2" lengthAdjust="spacingAndGlyphs">K/R/A</text>
<text transform="translate(169.1,303.8) rotate(90)" font-size="4.2" fill="#444" stroke="#444" stroke-width="0.12" textLength="4.6" lengthAdjust="spacingAndGlyphs">WT</text>
<text transform="translate(174.1,303.8) rotate(90)" font-size="4.2" fill="#444" stroke="#444" stroke-width="0.12" textLength="3.1" lengthAdjust="spacingAndGlyphs">K</text>
<text transform="translate(179.6,303.8) rotate(90)" font-size="4.2" fill="#444" stroke="#444" stroke-width="0.12" textLength="7.1" lengthAdjust="spacingAndGlyphs">K/R</text>
<text transform="translate(184.79999999999998,303.8) rotate(90)" font-size="4.2" fill="#444" stroke="#444" stroke-width="0.12" textLength="9.2" lengthAdjust="spacingAndGlyphs">K/R/A</text>
<text transform="translate(209.6,303.8) rotate(90)" font-size="4.2" fill="#444" stroke="#444" stroke-width="0.12" textLength="4.6" lengthAdjust="spacingAndGlyphs">WT</text>
<text transform="translate(214.9,303.8) rotate(90)" font-size="4.2" fill="#444" stroke="#444" stroke-width="0.12" textLength="3.1" lengthAdjust="spacingAndGlyphs">K</text>
<text transform="translate(220.0,303.8) rotate(90)" font-size="4.2" fill="#444" stroke="#444" stroke-width="0.12" textLength="7.1" lengthAdjust="spacingAndGlyphs">K/R</text>
<text transform="translate(225.0,303.8) rotate(90)" font-size="4.2" fill="#444" stroke="#444" stroke-width="0.12" textLength="9.2" lengthAdjust="spacingAndGlyphs">K/R/A</text>
<rect x="90.50" y="318.80" width="5.70" height="4.40" fill="#afafaf"/>
<text x="97.7" y="322.8" font-size="5.0" fill="#222" stroke="#222" stroke-width="0.12" textLength="13.8" lengthAdjust="spacingAndGlyphs">No Tx</text>
<rect x="123.00" y="318.80" width="5.00" height="4.40" fill="#0a0a0a"/>
<text x="129.0" y="322.8" font-size="5.0" fill="#222" stroke="#222" stroke-width="0.12" textLength="28" lengthAdjust="spacingAndGlyphs">pHDACi-Tx</text>
<text x="261.7" y="9.0" font-size="11.0" font-weight="bold" fill="#000" stroke="#000" stroke-width="0.22">B</text>
<text x="300.5" y="8.0" font-size="7.8" font-weight="bold" fill="#000" stroke="#000" stroke-width="0.22" textLength="167.6" lengthAdjust="spacingAndGlyphs">ChIPqPCR profile in SUMO1-depleted primary</text>
<text x="470.3" y="8.0" font-size="7.8" font-weight="bold" fill="#000" stroke="#000" stroke-width="0.22" textLength="4.0" lengthAdjust="spacingAndGlyphs">T</text>
<text x="474.5" y="10.9" font-size="6.0" font-weight="bold" fill="#000" stroke="#000" stroke-width="0.22" textLength="4.4" lengthAdjust="spacingAndGlyphs">H</text>
<text x="480.1" y="8.0" font-size="7.8" font-weight="bold" fill="#000" stroke="#000" stroke-width="0.22" textLength="22.8" lengthAdjust="spacingAndGlyphs">1-cells</text>
<text x="485.2" y="16.4" font-size="6.4" fill="#333" stroke="#333" stroke-width="0.12" textLength="21.6" lengthAdjust="spacingAndGlyphs">(NEM+)</text>
<text transform="translate(309.6,51.5) rotate(-90)" font-size="7.4" fill="#222" stroke="#222" stroke-width="0.12" textLength="23.1" lengthAdjust="spacingAndGlyphs">% input</text>
<text transform="translate(493.4,31.5) rotate(90)" font-size="8.6" font-weight="bold" font-style="italic" fill="#000" stroke="#000" stroke-width="0.22" textLength="20.6" lengthAdjust="spacingAndGlyphs">IFNG</text>
<line x1="321.9" y1="18.5" x2="321.9" y2="57.9" stroke="#c8c8c8" stroke-width="0.7"/>
<text x="320.29999999999995" y="21.1" font-size="4.2" text-anchor="end" fill="#444" stroke="#444" stroke-width="0.12">8</text>
<text x="320.29999999999995" y="31.1" font-size="4.2" text-anchor="end" fill="#444" stroke="#444" stroke-width="0.12">6</text>
<text x="320.29999999999995" y="41.1" font-size="4.2" text-anchor="end" fill="#444" stroke="#444" stroke-width="0.12">4</text>
<text x="320.29999999999995" y="50.3" font-size="4.2" text-anchor="end" fill="#444" stroke="#444" stroke-width="0.12">2</text>
<text x="320.29999999999995" y="59.4" font-size="4.2" text-anchor="end" fill="#444" stroke="#444" stroke-width="0.12">0</text>
<rect x="324.20" y="35.90" width="2.60" height="22.00" fill="#afafaf"/>
<rect x="327.20" y="37.75" width="2.80" height="20.15" fill="#0a0a0a"/>
<text x="322.25" y="63.6" font-size="4.5" font-weight="bold" fill="#111" stroke="#111" stroke-width="0.22" textLength="11.5" lengthAdjust="spacingAndGlyphs">WASp</text>
<line x1="345.25" y1="18.5" x2="345.25" y2="57.9" stroke="#c8c8c8" stroke-width="0.7"/>
<text x="343.65" y="21.75" font-size="4.2" text-anchor="end" fill="#444" stroke="#444" stroke-width="0.12">2</text>
<text x="343.65" y="40.5" font-size="4.2" text-anchor="end" fill="#444" stroke="#444" stroke-width="0.12">1</text>
<text x="343.65" y="59.4" font-size="4.2" text-anchor="end" fill="#444" stroke="#444" stroke-width="0.12">0</text>
<rect x="347.20" y="52.10" width="2.40" height="5.80" fill="#afafaf"/>
<rect x="350.00" y="37.10" width="2.80" height="20.80" fill="#0a0a0a"/>
<text x="340.0" y="63.6" font-size="4.5" font-weight="bold" fill="#111" stroke="#111" stroke-width="0.22" textLength="19.4" lengthAdjust="spacingAndGlyphs">COMMD1</text>
<line x1="369.4" y1="18.5" x2="369.4" y2="57.9" stroke="#c8c8c8" stroke-width="0.7"/>
<text x="367.79999999999995" y="21.75" font-size="4.2" text-anchor="end" fill="#444" stroke="#444" stroke-width="0.12">3</text>
<text x="367.79999999999995" y="34.9" font-size="4.2" text-anchor="end" fill="#444" stroke="#444" stroke-width="0.12">2</text>
<text x="367.79999999999995" y="48.0" font-size="4.2" text-anchor="end" fill="#444" stroke="#444" stroke-width="0.12">1</text>
<text x="367.79999999999995" y="59.4" font-size="4.2" text-anchor="end" fill="#444" stroke="#444" stroke-width="0.12">0</text>
<rect x="371.90" y="42.00" width="2.90" height="15.90" fill="#afafaf"/>
<rect x="375.00" y="51.70" width="3.10" height="6.20" fill="#0a0a0a"/>
<text x="371.0" y="63.6" font-size="4.5" font-weight="bold" fill="#111" stroke="#111" stroke-width="0.22" textLength="5.3" lengthAdjust="spacingAndGlyphs">p65</text>
<line x1="391.9" y1="18.5" x2="391.9" y2="57.9" stroke="#c8c8c8" stroke-width="0.7"/>
<text x="390.29999999999995" y="21.75" font-size="4.2" text-anchor="end" fill="#444" stroke="#444" stroke-width="0.12">4</text>
<text x="390.29999999999995" y="31.1" font-size="4.2" text-anchor="end" fill="#444" stroke="#444" stroke-width="0.12">3</text>
<text x="390.29999999999995" y="41.1" font-size="4.2" text-anchor="end" fill="#444" stroke="#444" stroke-width="0.12">2</text>
<text x="390.29999999999995" y="50.5" font-size="4.2" text-anchor="end" fill="#444" stroke="#444" stroke-width="0.12">1</text>
<text x="390.29999999999995" y="59.4" font-size="4.2" text-anchor="end" fill="#444" stroke="#444" stroke-width="0.12">0</text>
<rect x="394.20" y="52.60" width="2.70" height="5.30" fill="#afafaf"/>
<rect x="397.30" y="37.75" width="3.20" height="20.15" fill="#0a0a0a"/>
<text x="390.5" y="63.6" font-size="4.5" font-weight="bold" fill="#111" stroke="#111" stroke-width="0.22" textLength="14.2" lengthAdjust="spacingAndGlyphs">HDAC6</text>
<line x1="415.6" y1="18.5" x2="415.6" y2="57.9" stroke="#c8c8c8" stroke-width="0.7"/>
<text x="414.0" y="22.4" font-size="4.2" text-anchor="end" fill="#444" stroke="#444" stroke-width="0.12">3</text>
<text x="414.0" y="35.5" font-size="4.2" text-anchor="end" fill="#444" stroke="#444" stroke-width="0.12">2</text>
<text x="414.0" y="48.0" font-size="4.2" text-anchor="end" fill="#444" stroke="#444" stroke-width="0.12">1</text>
<text x="414.0" y="59.4" font-size="4.2" text-anchor="end" fill="#444" stroke="#444" stroke-width="0.12">0</text>
<rect x="418.50" y="34.60" width="3.00" height="23.30" fill="#afafaf"/>
<rect x="421.90" y="39.00" width="2.90" height="18.90" fill="#0a0a0a"/>
<text x="418.3" y="63.6" font-size="4.5" font-weight="bold" fill="#111" stroke="#111" stroke-width="0.22" textLength="7.8" lengthAdjust="spacingAndGlyphs">p300</text>
<line x1="439.75" y1="18.5" x2="439.75" y2="57.9" stroke="#c8c8c8" stroke-width="0.7"/>
<text x="438.15" y="21.75" font-size="4.2" text-anchor="end" fill="#444" stroke="#444" stroke-width="0.12">3</text>
<text x="438.15" y="34.9" font-size="4.2" text-anchor="end" fill="#444" stroke="#444" stroke-width="0.12">2</text>
<text x="438.15" y="47.75" font-size="4.2" text-anchor="end" fill="#444" stroke="#444" stroke-width="0.12">1</text>
<text x="438.15" y="59.4" font-size="4.2" text-anchor="end" fill="#444" stroke="#444" stroke-width="0.12">0</text>
<rect x="442.20" y="36.50" width="2.60" height="21.40" fill="#afafaf"/>
<rect x="445.20" y="51.25" width="3.30" height="6.65" fill="#0a0a0a"/>
<text x="436.2" y="63.6" font-size="4.5" font-weight="bold" fill="#111" stroke="#111" stroke-width="0.22" textLength="17.4" lengthAdjust="spacingAndGlyphs">H3K14ac</text>
<line x1="462.75" y1="18.5" x2="462.75" y2="57.9" stroke="#c8c8c8" stroke-width="0.7"/>
<text x="461.15" y="21.75" font-size="4.2" text-anchor="end" fill="#444" stroke="#444" stroke-width="0.12">3</text>
<text x="461.15" y="34.5" font-size="4.2" text-anchor="end" fill="#444" stroke="#444" stroke-width="0.12">2</text>
<text x="461.15" y="47.4" font-size="4.2" text-anchor="end" fill="#444" stroke="#444" stroke-width="0.12">1</text>
<text x="461.15" y="59.4" font-size="4.2" text-anchor="end" fill="#444" stroke="#444" stroke-width="0.12">0</text>
<rect x="465.00" y="26.50" width="2.80" height="31.40" fill="#afafaf"/>
<rect x="468.00" y="52.90" width="2.60" height="5.00" fill="#0a0a0a"/>
<text x="460.3" y="63.6" font-size="4.5" font-weight="bold" fill="#111" stroke="#111" stroke-width="0.22" textLength="14.3" lengthAdjust="spacingAndGlyphs">SUMO1</text>
<rect x="338.00" y="68.80" width="3.20" height="3.10" fill="#0a0a0a"/>
<text x="343.7" y="72.2" font-size="5.8" fill="#333" stroke="#333" stroke-width="0.12" textLength="28.2" lengthAdjust="spacingAndGlyphs">SUMO1 k/d</text>
<rect x="379.70" y="68.80" width="2.80" height="3.10" fill="#afafaf"/>
<text x="384.4" y="72.2" font-size="5.8" fill="#333" stroke="#333" stroke-width="0.12" textLength="17.5" lengthAdjust="spacingAndGlyphs">control</text>
<text x="261.2" y="87.7" font-size="11.2" font-weight="bold" fill="#000" stroke="#000" stroke-width="0.22">C</text>
<text x="303.2" y="85.5" font-size="7.8" font-weight="bold" fill="#000" stroke="#000" stroke-width="0.22" textLength="104.9" lengthAdjust="spacingAndGlyphs">ChIPqPCR profile in normal</text>
<text x="410.0" y="85.5" font-size="7.8" font-weight="bold" fill="#000" stroke="#000" stroke-width="0.22" textLength="4.4" lengthAdjust="spacingAndGlyphs">T</text>
<text x="415.1" y="87.3" font-size="5.2" font-weight="bold" fill="#000" stroke="#000" stroke-width="0.22" textLength="3.8" lengthAdjust="spacingAndGlyphs">H</text>
<text x="420.0" y="85.5" font-size="7.8" font-weight="bold" fill="#000" stroke="#000" stroke-width="0.22" textLength="27.0" lengthAdjust="spacingAndGlyphs">0-cells</text>
<text x="449.8" y="86.0" font-size="5.8" fill="#444" stroke="#444" stroke-width="0.12" textLength="20.2" lengthAdjust="spacingAndGlyphs">(NEM-)</text>
<text transform="translate(310.2,155.5) rotate(-90)" font-size="7.6" fill="#222" stroke="#222" stroke-width="0.12" textLength="24.5" lengthAdjust="spacingAndGlyphs">% input</text>
<text transform="translate(492.6,99.2) rotate(90)" font-size="8.6" font-weight="bold" font-style="italic" fill="#000" stroke="#000" stroke-width="0.22" textLength="21.6" lengthAdjust="spacingAndGlyphs">IFNG</text>
<text transform="translate(492.6,157.7) rotate(90)" font-size="8.6" font-weight="bold" font-style="italic" fill="#000" stroke="#000" stroke-width="0.22" textLength="24.6" lengthAdjust="spacingAndGlyphs">CSF2</text>
<line x1="322.5" y1="97.1" x2="322.5" y2="132.1" stroke="#c8c8c8" stroke-width="0.6"/>
<text x="320.5" y="98.69999999999999" font-size="3.2" text-anchor="end" fill="#555" stroke="#555" stroke-width="0.12">4</text>
<text x="320.5" y="107.32499999999999" font-size="3.2" text-anchor="end" fill="#555" stroke="#555" stroke-width="0.12">3</text>
<text x="320.5" y="115.94999999999999" font-size="3.2" text-anchor="end" fill="#555" stroke="#555" stroke-width="0.12">2</text>
<text x="320.5" y="124.57499999999999" font-size="3.2" text-anchor="end" fill="#555" stroke="#555" stroke-width="0.12">1</text>
<text x="320.5" y="133.2" font-size="3.2" text-anchor="end" fill="#555" stroke="#555" stroke-width="0.12">0</text>
<rect x="325.00" y="130.75" width="2.80" height="1.35" fill="#0a0a0a"/>
<rect x="328.50" y="103.50" width="2.50" height="28.60" fill="#afafaf"/>
<text x="323.0" y="138.1" font-size="4.6" font-weight="bold" fill="#111" stroke="#111" stroke-width="0.22" textLength="11.0" lengthAdjust="spacingAndGlyphs">WASp</text>
<line x1="347.25" y1="97.1" x2="347.25" y2="132.1" stroke="#c8c8c8" stroke-width="0.6"/>
<text x="345.25" y="98.69999999999999" font-size="3.2" text-anchor="end" fill="#555" stroke="#555" stroke-width="0.12">3</text>
<text x="345.25" y="104.44999999999999" font-size="3.2" text-anchor="end" fill="#555" stroke="#555" stroke-width="0.12">2.5</text>
<text x="345.25" y="110.19999999999999" font-size="3.2" text-anchor="end" fill="#555" stroke="#555" stroke-width="0.12">2</text>
<text x="345.25" y="115.94999999999999" font-size="3.2" text-anchor="end" fill="#555" stroke="#555" stroke-width="0.12">1.5</text>
<text x="345.25" y="121.69999999999999" font-size="3.2" text-anchor="end" fill="#555" stroke="#555" stroke-width="0.12">1</text>
<text x="345.25" y="127.44999999999999" font-size="3.2" text-anchor="end" fill="#555" stroke="#555" stroke-width="0.12">0.5</text>
<text x="345.25" y="133.2" font-size="3.2" text-anchor="end" fill="#555" stroke="#555" stroke-width="0.12">0</text>
<rect x="350.40" y="100.50" width="4.00" height="31.60" fill="#0a0a0a"/>
<rect x="355.00" y="130.00" width="2.50" height="2.10" fill="#afafaf"/>
<text x="343.8" y="138.1" font-size="4.6" font-weight="bold" fill="#111" stroke="#111" stroke-width="0.22" textLength="19.0" lengthAdjust="spacingAndGlyphs">COMMD1</text>
<line x1="372.5" y1="97.1" x2="372.5" y2="132.1" stroke="#c8c8c8" stroke-width="0.6"/>
<text x="370.5" y="98.69999999999999" font-size="3.2" text-anchor="end" fill="#555" stroke="#555" stroke-width="0.12">1</text>
<text x="370.5" y="105.6" font-size="3.2" text-anchor="end" fill="#555" stroke="#555" stroke-width="0.12">0.8</text>
<text x="370.5" y="112.49999999999999" font-size="3.2" text-anchor="end" fill="#555" stroke="#555" stroke-width="0.12">0.6</text>
<text x="370.5" y="119.39999999999999" font-size="3.2" text-anchor="end" fill="#555" stroke="#555" stroke-width="0.12">0.4</text>
<text x="370.5" y="126.29999999999998" font-size="3.2" text-anchor="end" fill="#555" stroke="#555" stroke-width="0.12">0.2</text>
<text x="370.5" y="133.2" font-size="3.2" text-anchor="end" fill="#555" stroke="#555" stroke-width="0.12">0</text>
<rect x="375.00" y="127.60" width="3.50" height="4.50" fill="#0a0a0a"/>
<rect x="378.80" y="105.50" width="3.10" height="26.60" fill="#afafaf"/>
<text x="375.3" y="138.1" font-size="4.6" font-weight="bold" fill="#111" stroke="#111" stroke-width="0.22" textLength="4.7" lengthAdjust="spacingAndGlyphs">p65</text>
<line x1="396.25" y1="97.1" x2="396.25" y2="132.1" stroke="#c8c8c8" stroke-width="0.6"/>
<text x="394.25" y="98.69999999999999" font-size="3.2" text-anchor="end" fill="#555" stroke="#555" stroke-width="0.12">2</text>
<text x="394.25" y="107.32499999999999" font-size="3.2" text-anchor="end" fill="#555" stroke="#555" stroke-width="0.12">1.5</text>
<text x="394.25" y="115.94999999999999" font-size="3.2" text-anchor="end" fill="#555" stroke="#555" stroke-width="0.12">1</text>
<text x="394.25" y="124.57499999999999" font-size="3.2" text-anchor="end" fill="#555" stroke="#555" stroke-width="0.12">0.5</text>
<text x="394.25" y="133.2" font-size="3.2" text-anchor="end" fill="#555" stroke="#555" stroke-width="0.12">0</text>
<rect x="399.40" y="108.00" width="3.70" height="24.10" fill="#0a0a0a"/>
<rect x="403.80" y="129.50" width="2.70" height="2.60" fill="#afafaf"/>
<text x="395.4" y="138.1" font-size="4.6" font-weight="bold" fill="#111" stroke="#111" stroke-width="0.22" textLength="9.3" lengthAdjust="spacingAndGlyphs">HDAC6</text>
<line x1="421.9" y1="97.1" x2="421.9" y2="132.1" stroke="#c8c8c8" stroke-width="0.6"/>
<text x="419.9" y="98.69999999999999" font-size="3.2" text-anchor="end" fill="#555" stroke="#555" stroke-width="0.12">2</text>
<text x="419.9" y="107.32499999999999" font-size="3.2" text-anchor="end" fill="#555" stroke="#555" stroke-width="0.12">1.5</text>
<text x="419.9" y="115.94999999999999" font-size="3.2" text-anchor="end" fill="#555" stroke="#555" stroke-width="0.12">1</text>
<text x="419.9" y="124.57499999999999" font-size="3.2" text-anchor="end" fill="#555" stroke="#555" stroke-width="0.12">0.5</text>
<text x="419.9" y="133.2" font-size="3.2" text-anchor="end" fill="#555" stroke="#555" stroke-width="0.12">0</text>
<rect x="425.00" y="127.60" width="3.10" height="4.50" fill="#0a0a0a"/>
<rect x="428.50" y="106.40" width="2.80" height="25.70" fill="#afafaf"/>
<text x="418.5" y="138.1" font-size="4.6" font-weight="bold" fill="#111" stroke="#111" stroke-width="0.22" textLength="12.7" lengthAdjust="spacingAndGlyphs">H3K14ac</text>
<line x1="322.5" y1="149.3" x2="322.5" y2="183.8" stroke="#c8c8c8" stroke-width="0.6"/>
<text x="320.5" y="150.9" font-size="3.2" text-anchor="end" fill="#555" stroke="#555" stroke-width="0.12">4</text>
<text x="320.5" y="159.4" font-size="3.2" text-anchor="end" fill="#555" stroke="#555" stroke-width="0.12">3</text>
<text x="320.5" y="167.9" font-size="3.2" text-anchor="end" fill="#555" stroke="#555" stroke-width="0.12">2</text>
<text x="320.5" y="176.4" font-size="3.2" text-anchor="end" fill="#555" stroke="#555" stroke-width="0.12">1</text>
<text x="320.5" y="184.9" font-size="3.2" text-anchor="end" fill="#555" stroke="#555" stroke-width="0.12">0</text>
<rect x="325.00" y="181.50" width="2.60" height="2.30" fill="#0a0a0a"/>
<rect x="328.00" y="180.60" width="2.20" height="3.20" fill="#afafaf"/>
<text x="323.0" y="189.1" font-size="4.6" font-weight="bold" fill="#111" stroke="#111" stroke-width="0.22" textLength="11.0" lengthAdjust="spacingAndGlyphs">WASp</text>
<line x1="347.25" y1="149.3" x2="347.25" y2="183.8" stroke="#c8c8c8" stroke-width="0.6"/>
<text x="345.25" y="150.9" font-size="3.2" text-anchor="end" fill="#555" stroke="#555" stroke-width="0.12">3</text>
<text x="345.25" y="156.56666666666666" font-size="3.2" text-anchor="end" fill="#555" stroke="#555" stroke-width="0.12">2.5</text>
<text x="345.25" y="162.23333333333335" font-size="3.2" text-anchor="end" fill="#555" stroke="#555" stroke-width="0.12">2</text>
<text x="345.25" y="167.9" font-size="3.2" text-anchor="end" fill="#555" stroke="#555" stroke-width="0.12">1.5</text>
<text x="345.25" y="173.56666666666666" font-size="3.2" text-anchor="end" fill="#555" stroke="#555" stroke-width="0.12">1</text>
<text x="345.25" y="179.23333333333335" font-size="3.2" text-anchor="end" fill="#555" stroke="#555" stroke-width="0.12">0.5</text>
<text x="345.25" y="184.9" font-size="3.2" text-anchor="end" fill="#555" stroke="#555" stroke-width="0.12">0</text>
<rect x="350.60" y="181.00" width="3.40" height="2.80" fill="#0a0a0a"/>
<rect x="355.00" y="182.50" width="2.50" height="1.30" fill="#afafaf"/>
<text x="343.8" y="189.1" font-size="4.6" font-weight="bold" fill="#111" stroke="#111" stroke-width="0.22" textLength="19.0" lengthAdjust="spacingAndGlyphs">COMMD1</text>
<line x1="372.5" y1="149.3" x2="372.5" y2="183.8" stroke="#c8c8c8" stroke-width="0.6"/>
<text x="370.5" y="150.9" font-size="3.2" text-anchor="end" fill="#555" stroke="#555" stroke-width="0.12">1</text>
<text x="370.5" y="157.70000000000002" font-size="3.2" text-anchor="end" fill="#555" stroke="#555" stroke-width="0.12">0.8</text>
<text x="370.5" y="164.5" font-size="3.2" text-anchor="end" fill="#555" stroke="#555" stroke-width="0.12">0.6</text>
<text x="370.5" y="171.3" font-size="3.2" text-anchor="end" fill="#555" stroke="#555" stroke-width="0.12">0.4</text>
<text x="370.5" y="178.1" font-size="3.2" text-anchor="end" fill="#555" stroke="#555" stroke-width="0.12">0.2</text>
<text x="370.5" y="184.9" font-size="3.2" text-anchor="end" fill="#555" stroke="#555" stroke-width="0.12">0</text>
<rect x="374.60" y="175.00" width="3.50" height="8.80" fill="#0a0a0a"/>
<rect x="378.60" y="177.30" width="3.40" height="6.50" fill="#afafaf"/>
<text x="375.3" y="189.1" font-size="4.6" font-weight="bold" fill="#111" stroke="#111" stroke-width="0.22" textLength="4.7" lengthAdjust="spacingAndGlyphs">p65</text>
<line x1="396.25" y1="149.3" x2="396.25" y2="183.8" stroke="#c8c8c8" stroke-width="0.6"/>
<text x="394.25" y="150.9" font-size="3.2" text-anchor="end" fill="#555" stroke="#555" stroke-width="0.12">2</text>
<text x="394.25" y="159.4" font-size="3.2" text-anchor="end" fill="#555" stroke="#555" stroke-width="0.12">1.5</text>
<text x="394.25" y="167.9" font-size="3.2" text-anchor="end" fill="#555" stroke="#555" stroke-width="0.12">1</text>
<text x="394.25" y="176.4" font-size="3.2" text-anchor="end" fill="#555" stroke="#555" stroke-width="0.12">0.5</text>
<text x="394.25" y="184.9" font-size="3.2" text-anchor="end" fill="#555" stroke="#555" stroke-width="0.12">0</text>
<rect x="398.40" y="178.20" width="3.90" height="5.60" fill="#0a0a0a"/>
<rect x="403.00" y="181.20" width="3.30" height="2.60" fill="#afafaf"/>
<text x="395.4" y="189.1" font-size="4.6" font-weight="bold" fill="#111" stroke="#111" stroke-width="0.22" textLength="9.3" lengthAdjust="spacingAndGlyphs">HDAC6</text>
<line x1="421.9" y1="149.3" x2="421.9" y2="183.8" stroke="#c8c8c8" stroke-width="0.6"/>
<text x="419.9" y="150.9" font-size="3.2" text-anchor="end" fill="#555" stroke="#555" stroke-width="0.12">2</text>
<text x="419.9" y="159.4" font-size="3.2" text-anchor="end" fill="#555" stroke="#555" stroke-width="0.12">1.5</text>
<text x="419.9" y="167.9" font-size="3.2" text-anchor="end" fill="#555" stroke="#555" stroke-width="0.12">1</text>
<text x="419.9" y="176.4" font-size="3.2" text-anchor="end" fill="#555" stroke="#555" stroke-width="0.12">0.5</text>
<text x="419.9" y="184.9" font-size="3.2" text-anchor="end" fill="#555" stroke="#555" stroke-width="0.12">0</text>
<rect x="424.30" y="177.70" width="4.10" height="6.10" fill="#0a0a0a"/>
<rect x="428.90" y="177.30" width="3.50" height="6.50" fill="#afafaf"/>
<text x="418.5" y="189.1" font-size="4.6" font-weight="bold" fill="#111" stroke="#111" stroke-width="0.22" textLength="12.7" lengthAdjust="spacingAndGlyphs">H3K14ac</text>
<rect x="442.80" y="139.20" width="3.10" height="2.80" fill="#0a0a0a"/>
<text x="447.0" y="142.9" font-size="5.4" fill="#333" stroke="#333" stroke-width="0.12" textLength="9.0" lengthAdjust="spacingAndGlyphs">Th0</text>
<rect x="442.80" y="151.20" width="2.80" height="2.60" fill="#b8b8b8"/>
<text x="447.0" y="154.9" font-size="5.4" fill="#333" stroke="#333" stroke-width="0.12" textLength="8.8" lengthAdjust="spacingAndGlyphs">Th1</text>
<text x="261.2" y="219.2" font-size="10.9" font-weight="bold" fill="#000" stroke="#000" stroke-width="0.22">D</text>
<text x="284.8" y="222.6" font-size="7.8" font-weight="bold" fill="#111" stroke="#111" stroke-width="0.22" textLength="147.1" lengthAdjust="spacingAndGlyphs">WASp*SUMO chromatin signaling model</text>
<text x="278.8" y="237.9" font-size="5.4" font-weight="bold" fill="#111" stroke="#111" stroke-width="0.22" textLength="57" lengthAdjust="spacingAndGlyphs">SUMOylatable WASp</text>
<line x1="278.8" y1="238.6" x2="335.8" y2="238.6" stroke="#222" stroke-width="0.5"/>
<text x="416.2" y="237.8" font-size="5.4" font-weight="bold" fill="#222" stroke="#222" stroke-width="0.22" textLength="70.1" lengthAdjust="spacingAndGlyphs">Non-SUMOylatable WASp</text>
<line x1="416.2" y1="238.5" x2="486.3" y2="238.5" stroke="#222" stroke-width="0.5"/>
<text x="262.4" y="252.9" font-size="6.8" fill="#111" stroke="#111" stroke-width="0.12" textLength="84.2" lengthAdjust="spacingAndGlyphs">Transcription-activating signaling</text>
<text x="393.1" y="251.4" font-size="6.8" fill="#111" stroke="#111" stroke-width="0.12" textLength="88.4" lengthAdjust="spacingAndGlyphs">Transcription-repressive signaling</text>
<text x="305.4" y="317.2" font-size="6.6" font-weight="bold" font-style="italic" fill="#111" stroke="#111" stroke-width="0.22" textLength="50.9" lengthAdjust="spacingAndGlyphs">Relaxed chromatin</text>
<text x="437.7" y="318.0" font-size="6.8" font-weight="bold" font-style="italic" fill="#111" stroke="#111" stroke-width="0.22" textLength="52" lengthAdjust="spacingAndGlyphs">Compact chromatin</text>
<defs>
<filter id="glow" x="-50%" y="-50%" width="200%" height="200%"><feGaussianBlur stdDeviation="1.2"/></filter>
<filter id="soft" x="-20%" y="-20%" width="140%" height="140%"><feGaussianBlur stdDeviation="0.25"/></filter>
<linearGradient id="hdac" x1="0" y1="0" x2="0" y2="1"><stop offset="0" stop-color="#6e6e6e"/><stop offset="1" stop-color="#2a2a2a"/></linearGradient>
<linearGradient id="commd" x1="0" y1="0" x2="0" y2="1"><stop offset="0" stop-color="#cdbbf0"/><stop offset="1" stop-color="#8c6ecf"/></linearGradient>
<linearGradient id="cyl" x1="0" y1="0" x2="0" y2="1"><stop offset="0" stop-color="#f6f6f6"/><stop offset="1" stop-color="#dcdcdc"/></linearGradient>
</defs>
<rect x="278.3" y="268.6" width="14" height="9.6" rx="3" fill="#c4ef80" filter="url(#glow)"/>
<rect x="280" y="270" width="10.8" height="6.9" rx="2" fill="#d3f39e"/>
<text x="281.3" y="276.2" font-size="6.8" font-weight="bold" fill="#3f7a1e" font-family="Liberation Sans, sans-serif" textLength="8" lengthAdjust="spacingAndGlyphs">Ac</text>
<path d="M290.8,273.6 C296,273.2 298.8,276 300.2,281" fill="none" stroke="#222" stroke-width="0.9"/>
<path d="M269.2,288.6 A18.0,7.4 0 0 1 305.2,288.6" fill="none" stroke="#2c2c2c" stroke-width="3.2" stroke-linecap="round" stroke-linejoin="round"/>
<path d="M269.2,288.6 A18.0,7.4 0 0 1 305.2,288.6" fill="none" stroke="#a8a8a8" stroke-width="1.0" stroke-linecap="round" stroke-linejoin="round"/>
<path d="M268.9,296.2 A18.3,7.4 0 0 1 305.5,296.2" fill="none" stroke="#2c2c2c" stroke-width="3.2" stroke-linecap="round" stroke-linejoin="round"/>
<path d="M268.9,296.2 A18.3,7.4 0 0 1 305.5,296.2" fill="none" stroke="#a8a8a8" stroke-width="1.0" stroke-linecap="round" stroke-linejoin="round"/>
<path d="M274.3,285.6 L274.3,295.20000000000005 A13.5,2.8 0 0 0 301.3,295.20000000000005 L301.3,285.6 Z" fill="url(#cyl)" stroke="#666" stroke-width="0.4"/>
<ellipse cx="287.8" cy="285.6" rx="13.5" ry="2.8" fill="#eeedf4" stroke="#333" stroke-width="0.8"/>
<path d="M300.5,283.2 C306,284.2 310,281.4 314,280.3 C315.5,279.9 317,279.6 318.6,279.2" fill="none" stroke="#2c2c2c" stroke-width="2.3" stroke-linecap="round" stroke-linejoin="round"/>
<path d="M300.5,283.2 C306,284.2 310,281.4 314,280.3 C315.5,279.9 317,279.6 318.6,279.2" fill="none" stroke="#a8a8a8" stroke-width="0.6" stroke-linecap="round" stroke-linejoin="round"/>
<path d="M269.2,288.6 A18.0,7.4 0 0 0 305.2,288.6" fill="none" stroke="#2c2c2c" stroke-width="3.2" stroke-linecap="round" stroke-linejoin="round"/>
<path d="M269.2,288.6 A18.0,7.4 0 0 0 305.2,288.6" fill="none" stroke="#a8a8a8" stroke-width="1.0" stroke-linecap="round" stroke-linejoin="round"/>
<path d="M268.9,296.2 A18.3,7.4 0 0 0 305.5,296.2" fill="none" stroke="#2c2c2c" stroke-width="3.2" stroke-linecap="round" stroke-linejoin="round"/>
<path d="M268.9,296.2 A18.3,7.4 0 0 0 305.5,296.2" fill="none" stroke="#a8a8a8" stroke-width="1.0" stroke-linecap="round" stroke-linejoin="round"/>
<path d="M305.50,300.83 L306.00,301.24 L306.50,301.64 L307.00,302.03 L307.50,302.39 L308.00,302.72 L308.50,303.03 L309.00,303.31 L309.50,303.56 L310.00,303.78 L310.50,303.96 L311.00,304.10 L311.50,304.21 L312.00,304.27 L312.50,304.30 L313.00,304.29 L313.50,304.24 L314.00,304.15 L314.50,304.02 L315.00,303.85 L315.50,303.65 L316.00,303.42 L316.50,303.15 L317.00,302.85 L317.50,302.53 L318.00,302.17 L318.50,301.80 L319.00,301.41 L319.50,301.00 L320.00,300.57 L320.50,300.14 L321.00,299.70 L321.50,299.26 L322.00,298.81 L322.50,298.37 L323.00,297.94 L323.50,297.52 L324.00,297.11 L324.50,296.72 L325.00,296.35 L325.50,296.01 L326.00,295.69 L326.50,295.39 L327.00,295.13 L327.50,294.90 L328.00,294.71 L328.50,294.55 L329.00,294.43 L329.50,294.35 L330.00,294.31 L330.50,294.30 L331.00,294.34 L331.50,294.41 L332.00,294.53 L332.50,294.68 L333.00,294.86 L333.50,295.09 L334.00,295.34 L334.50,295.63 L335.00,295.94 L335.50,296.28 L336.00,296.65 L336.50,297.03 L337.00,297.44 L337.50,297.86 L338.00,298.29 L338.50,298.72 L339.00,299.17 L339.50,299.61 L340.00,300.05 L340.50,300.49 L341.00,300.91 L341.50,301.33 L342.00,301.72 L342.50,302.10 L343.00,302.46 L343.50,302.79 L344.00,303.09 L344.50,303.37 L345.00,303.61 L345.50,303.82 L346.00,303.99 L346.50,304.12 L347.00,304.22 L347.50,304.28 L348.00,304.30 L348.50,304.28 L349.00,304.22 L349.50,304.12 L350.00,303.99 L350.50,303.82 L351.00,303.61 L351.50,303.37 L352.00,303.09 L352.50,302.79 L353.00,302.46 L353.50,302.10 L354.00,301.72 L354.50,301.33 L355.00,300.91 L355.50,300.49 L356.00,300.05 L356.50,299.61 L357.00,299.17 L357.50,298.72 L358.00,298.29 L358.50,297.86 L359.00,297.44 L359.50,297.03 L360.00,296.65 L360.50,296.28 L361.00,295.94 L361.50,295.63 L362.00,295.34 L362.50,295.09 L363.00,294.86 L363.50,294.68 L364.00,294.53 L364.50,294.41 L365.00,294.34 L365.50,294.30 L366.00,294.31 L366.50,294.35 L367.00,294.43 L367.50,294.55 L368.00,294.71 L368.50,294.90 L369.00,295.13 L369.50,295.39 L370.00,295.69 L370.50,296.01 L371.00,296.35 L371.50,296.72 L372.00,297.11 L372.50,297.52 L373.00,297.94 L373.50,298.37 L374.00,298.81 L374.50,299.26 L375.00,299.70 L375.50,300.14 L376.00,300.57 L376.50,301.00 L377.00,301.41 L377.50,301.80 L378.00,302.17 L378.50,302.53 L379.00,302.85 L379.50,303.15 L380.00,303.42 L380.50,303.65 L381.00,303.85 L381.50,304.02 L382.00,304.15" fill="none" stroke="#2c2c2c" stroke-width="3.3" stroke-linecap="round" stroke-linejoin="round"/>
<path d="M305.50,300.83 L306.00,301.24 L306.50,301.64 L307.00,302.03 L307.50,302.39 L308.00,302.72 L308.50,303.03 L309.00,303.31 L309.50,303.56 L310.00,303.78 L310.50,303.96 L311.00,304.10 L311.50,304.21 L312.00,304.27 L312.50,304.30 L313.00,304.29 L313.50,304.24 L314.00,304.15 L314.50,304.02 L315.00,303.85 L315.50,303.65 L316.00,303.42 L316.50,303.15 L317.00,302.85 L317.50,302.53 L318.00,302.17 L318.50,301.80 L319.00,301.41 L319.50,301.00 L320.00,300.57 L320.50,300.14 L321.00,299.70 L321.50,299.26 L322.00,298.81 L322.50,298.37 L323.00,297.94 L323.50,297.52 L324.00,297.11 L324.50,296.72 L325.00,296.35 L325.50,296.01 L326.00,295.69 L326.50,295.39 L327.00,295.13 L327.50,294.90 L328.00,294.71 L328.50,294.55 L329.00,294.43 L329.50,294.35 L330.00,294.31 L330.50,294.30 L331.00,294.34 L331.50,294.41 L332.00,294.53 L332.50,294.68 L333.00,294.86 L333.50,295.09 L334.00,295.34 L334.50,295.63 L335.00,295.94 L335.50,296.28 L336.00,296.65 L336.50,297.03 L337.00,297.44 L337.50,297.86 L338.00,298.29 L338.50,298.72 L339.00,299.17 L339.50,299.61 L340.00,300.05 L340.50,300.49 L341.00,300.91 L341.50,301.33 L342.00,301.72 L342.50,302.10 L343.00,302.46 L343.50,302.79 L344.00,303.09 L344.50,303.37 L345.00,303.61 L345.50,303.82 L346.00,303.99 L346.50,304.12 L347.00,304.22 L347.50,304.28 L348.00,304.30 L348.50,304.28 L349.00,304.22 L349.50,304.12 L350.00,303.99 L350.50,303.82 L351.00,303.61 L351.50,303.37 L352.00,303.09 L352.50,302.79 L353.00,302.46 L353.50,302.10 L354.00,301.72 L354.50,301.33 L355.00,300.91 L355.50,300.49 L356.00,300.05 L356.50,299.61 L357.00,299.17 L357.50,298.72 L358.00,298.29 L358.50,297.86 L359.00,297.44 L359.50,297.03 L360.00,296.65 L360.50,296.28 L361.00,295.94 L361.50,295.63 L362.00,295.34 L362.50,295.09 L363.00,294.86 L363.50,294.68 L364.00,294.53 L364.50,294.41 L365.00,294.34 L365.50,294.30 L366.00,294.31 L366.50,294.35 L367.00,294.43 L367.50,294.55 L368.00,294.71 L368.50,294.90 L369.00,295.13 L369.50,295.39 L370.00,295.69 L370.50,296.01 L371.00,296.35 L371.50,296.72 L372.00,297.11 L372.50,297.52 L373.00,297.94 L373.50,298.37 L374.00,298.81 L374.50,299.26 L375.00,299.70 L375.50,300.14 L376.00,300.57 L376.50,301.00 L377.00,301.41 L377.50,301.80 L378.00,302.17 L378.50,302.53 L379.00,302.85 L379.50,303.15 L380.00,303.42 L380.50,303.65 L381.00,303.85 L381.50,304.02 L382.00,304.15" fill="none" stroke="#e6e6e6" stroke-width="1.2" stroke-linecap="round" stroke-linejoin="round"/>
<path d="M303.50,299.52 L304.00,299.08 L304.50,298.64 L305.00,298.20 L305.50,297.77 L306.00,297.36 L306.50,296.96 L307.00,296.57 L307.50,296.21 L308.00,295.88 L308.50,295.57 L309.00,295.29 L309.50,295.04 L310.00,294.82 L310.50,294.64 L311.00,294.50 L311.50,294.39 L312.00,294.33 L312.50,294.30 L313.00,294.31 L313.50,294.36 L314.00,294.45 L314.50,294.58 L315.00,294.75 L315.50,294.95 L316.00,295.18 L316.50,295.45 L317.00,295.75 L317.50,296.07 L318.00,296.43 L318.50,296.80 L319.00,297.19 L319.50,297.60 L320.00,298.03 L320.50,298.46 L321.00,298.90 L321.50,299.34 L322.00,299.79 L322.50,300.23 L323.00,300.66 L323.50,301.08 L324.00,301.49 L324.50,301.88 L325.00,302.25 L325.50,302.59 L326.00,302.91 L326.50,303.21 L327.00,303.47 L327.50,303.70 L328.00,303.89 L328.50,304.05 L329.00,304.17 L329.50,304.25 L330.00,304.29 L330.50,304.30 L331.00,304.26 L331.50,304.19 L332.00,304.07 L332.50,303.92 L333.00,303.74 L333.50,303.51 L334.00,303.26 L334.50,302.97 L335.00,302.66 L335.50,302.32 L336.00,301.95 L336.50,301.57 L337.00,301.16 L337.50,300.74 L338.00,300.31 L338.50,299.88 L339.00,299.43 L339.50,298.99 L340.00,298.55 L340.50,298.11 L341.00,297.69 L341.50,297.27 L342.00,296.88 L342.50,296.50 L343.00,296.14 L343.50,295.81 L344.00,295.51 L344.50,295.23 L345.00,294.99 L345.50,294.78 L346.00,294.61 L346.50,294.48 L347.00,294.38 L347.50,294.32 L348.00,294.30 L348.50,294.32 L349.00,294.38 L349.50,294.48 L350.00,294.61 L350.50,294.78 L351.00,294.99 L351.50,295.23 L352.00,295.51 L352.50,295.81 L353.00,296.14 L353.50,296.50 L354.00,296.88 L354.50,297.27 L355.00,297.69 L355.50,298.11 L356.00,298.55 L356.50,298.99 L357.00,299.43 L357.50,299.88 L358.00,300.31 L358.50,300.74 L359.00,301.16 L359.50,301.57 L360.00,301.95 L360.50,302.32 L361.00,302.66 L361.50,302.97 L362.00,303.26 L362.50,303.51 L363.00,303.74 L363.50,303.92 L364.00,304.07 L364.50,304.19 L365.00,304.26 L365.50,304.30 L366.00,304.29 L366.50,304.25 L367.00,304.17 L367.50,304.05 L368.00,303.89 L368.50,303.70 L369.00,303.47 L369.50,303.21 L370.00,302.91 L370.50,302.59 L371.00,302.25 L371.50,301.88 L372.00,301.49 L372.50,301.08 L373.00,300.66 L373.50,300.23 L374.00,299.79 L374.50,299.34 L375.00,298.90 L375.50,298.46 L376.00,298.03 L376.50,297.60 L377.00,297.19 L377.50,296.80 L378.00,296.43 L378.50,296.07 L379.00,295.75 L379.50,295.45 L380.00,295.18 L380.50,294.95 L381.00,294.75 L381.50,294.58 L382.00,294.45" fill="none" stroke="#2c2c2c" stroke-width="3.3" stroke-linecap="round" stroke-linejoin="round"/>
<path d="M303.50,299.52 L304.00,299.08 L304.50,298.64 L305.00,298.20 L305.50,297.77 L306.00,297.36 L306.50,296.96 L307.00,296.57 L307.50,296.21 L308.00,295.88 L308.50,295.57 L309.00,295.29 L309.50,295.04 L310.00,294.82 L310.50,294.64 L311.00,294.50 L311.50,294.39 L312.00,294.33 L312.50,294.30 L313.00,294.31 L313.50,294.36 L314.00,294.45 L314.50,294.58 L315.00,294.75 L315.50,294.95 L316.00,295.18 L316.50,295.45 L317.00,295.75 L317.50,296.07 L318.00,296.43 L318.50,296.80 L319.00,297.19 L319.50,297.60 L320.00,298.03 L320.50,298.46 L321.00,298.90 L321.50,299.34 L322.00,299.79 L322.50,300.23 L323.00,300.66 L323.50,301.08 L324.00,301.49 L324.50,301.88 L325.00,302.25 L325.50,302.59 L326.00,302.91 L326.50,303.21 L327.00,303.47 L327.50,303.70 L328.00,303.89 L328.50,304.05 L329.00,304.17 L329.50,304.25 L330.00,304.29 L330.50,304.30 L331.00,304.26 L331.50,304.19 L332.00,304.07 L332.50,303.92 L333.00,303.74 L333.50,303.51 L334.00,303.26 L334.50,302.97 L335.00,302.66 L335.50,302.32 L336.00,301.95 L336.50,301.57 L337.00,301.16 L337.50,300.74 L338.00,300.31 L338.50,299.88 L339.00,299.43 L339.50,298.99 L340.00,298.55 L340.50,298.11 L341.00,297.69 L341.50,297.27 L342.00,296.88 L342.50,296.50 L343.00,296.14 L343.50,295.81 L344.00,295.51 L344.50,295.23 L345.00,294.99 L345.50,294.78 L346.00,294.61 L346.50,294.48 L347.00,294.38 L347.50,294.32 L348.00,294.30 L348.50,294.32 L349.00,294.38 L349.50,294.48 L350.00,294.61 L350.50,294.78 L351.00,294.99 L351.50,295.23 L352.00,295.51 L352.50,295.81 L353.00,296.14 L353.50,296.50 L354.00,296.88 L354.50,297.27 L355.00,297.69 L355.50,298.11 L356.00,298.55 L356.50,298.99 L357.00,299.43 L357.50,299.88 L358.00,300.31 L358.50,300.74 L359.00,301.16 L359.50,301.57 L360.00,301.95 L360.50,302.32 L361.00,302.66 L361.50,302.97 L362.00,303.26 L362.50,303.51 L363.00,303.74 L363.50,303.92 L364.00,304.07 L364.50,304.19 L365.00,304.26 L365.50,304.30 L366.00,304.29 L366.50,304.25 L367.00,304.17 L367.50,304.05 L368.00,303.89 L368.50,303.70 L369.00,303.47 L369.50,303.21 L370.00,302.91 L370.50,302.59 L371.00,302.25 L371.50,301.88 L372.00,301.49 L372.50,301.08 L373.00,300.66 L373.50,300.23 L374.00,299.79 L374.50,299.34 L375.00,298.90 L375.50,298.46 L376.00,298.03 L376.50,297.60 L377.00,297.19 L377.50,296.80 L378.00,296.43 L378.50,296.07 L379.00,295.75 L379.50,295.45 L380.00,295.18 L380.50,294.95 L381.00,294.75 L381.50,294.58 L382.00,294.45" fill="none" stroke="#e6e6e6" stroke-width="1.2" stroke-linecap="round" stroke-linejoin="round"/>
<path d="M270,297.5 C272,303.5 280,305.6 292,305.6 C299,305.6 303,304.2 305.6,303.8" fill="none" stroke="#2c2c2c" stroke-width="2.6" stroke-linecap="round" stroke-linejoin="round"/>
<path d="M270,297.5 C272,303.5 280,305.6 292,305.6 C299,305.6 303,304.2 305.6,303.8" fill="none" stroke="#a8a8a8" stroke-width="0.8" stroke-linecap="round" stroke-linejoin="round"/>
<ellipse cx="350.2" cy="277.3" rx="19.2" ry="5.9" fill="#d5e3f6" stroke="#7e9dd0" stroke-width="0.6"/>
<text x="351.0" y="280.0" font-size="6.2" font-weight="bold" fill="#1f3864" text-anchor="middle" font-family="Liberation Sans, sans-serif">WASp</text>
<ellipse cx="344.4" cy="266.0" rx="11.1" ry="5.9" fill="#e27474" stroke="#b94a4a" stroke-width="0.6"/>
<text x="344.5" y="269.0" font-size="6.4" font-weight="bold" fill="#3a0808" text-anchor="middle" font-family="Liberation Sans, sans-serif" textLength="17.2" lengthAdjust="spacingAndGlyphs">SUMO</text>
<g transform="translate(334.0,286.6) rotate(25)"><rect x="-13.5" y="-4.4" width="27" height="8.8" fill="#d7ee8f" stroke="#a3c44e" stroke-width="0.6"/><text x="0.5" y="2.4" font-size="6.6" font-weight="bold" fill="#2a2a2a" text-anchor="middle" font-family="Liberation Sans, sans-serif">p300</text></g>
<path d="M366.2,274.8 L376.2,293.6 L355.2,293.6 Z" fill="#f2ae58" stroke="#d8922e" stroke-width="0.5"/>
<text x="366.4" y="291.8" font-size="5.6" font-weight="bold" fill="#3a2000" text-anchor="middle" font-family="Liberation Sans, sans-serif">p65</text>
<ellipse cx="405.4" cy="268.6" rx="6.8" ry="5.8" fill="#e3f4a6" filter="url(#glow)"/>
<path d="M402.6,265.4 L407.8,272.0 M408.6,265.2 L403.0,272.4" stroke="#c0281a" stroke-width="1.7" stroke-linecap="round"/>
<path d="M409.5,268.8 C415,268.5 419.5,270.5 420.8,276" fill="none" stroke="#222" stroke-width="0.9"/>
<path d="M405.5,287.4 A14.5,7.4 0 0 1 434.5,287.4" fill="none" stroke="#2c2c2c" stroke-width="3.2" stroke-linecap="round" stroke-linejoin="round"/>
<path d="M405.5,287.4 A14.5,7.4 0 0 1 434.5,287.4" fill="none" stroke="#a8a8a8" stroke-width="1.0" stroke-linecap="round" stroke-linejoin="round"/>
<path d="M405.2,293.8 A14.8,7.6 0 0 1 434.8,293.8" fill="none" stroke="#2c2c2c" stroke-width="3.2" stroke-linecap="round" stroke-linejoin="round"/>
<path d="M405.2,293.8 A14.8,7.6 0 0 1 434.8,293.8" fill="none" stroke="#a8a8a8" stroke-width="1.0" stroke-linecap="round" stroke-linejoin="round"/>
<path d="M405.40000000000003,299.8 A14.2,7.6 0 0 1 433.8,299.8" fill="none" stroke="#2c2c2c" stroke-width="3.2" stroke-linecap="round" stroke-linejoin="round"/>
<path d="M405.40000000000003,299.8 A14.2,7.6 0 0 1 433.8,299.8" fill="none" stroke="#a8a8a8" stroke-width="1.0" stroke-linecap="round" stroke-linejoin="round"/>
<path d="M409.2,283.8 L409.2,295.8 A10.3,3.3 0 0 0 429.8,295.8 L429.8,283.8 Z" fill="url(#cyl)" stroke="#666" stroke-width="0.4"/>
<ellipse cx="419.5" cy="283.8" rx="10.3" ry="3.3" fill="#eeedf4" stroke="#333" stroke-width="0.8"/>
<path d="M418,277.2 C424,279.6 431,280 438.6,276.4" fill="none" stroke="#2c2c2c" stroke-width="2.4" stroke-linecap="round" stroke-linejoin="round"/>
<path d="M418,277.2 C424,279.6 431,280 438.6,276.4" fill="none" stroke="#a8a8a8" stroke-width="0.6" stroke-linecap="round" stroke-linejoin="round"/>
<path d="M405.5,287.4 A14.5,7.4 0 0 0 434.5,287.4" fill="none" stroke="#2c2c2c" stroke-width="3.2" stroke-linecap="round" stroke-linejoin="round"/>
<path d="M405.5,287.4 A14.5,7.4 0 0 0 434.5,287.4" fill="none" stroke="#a8a8a8" stroke-width="1.0" stroke-linecap="round" stroke-linejoin="round"/>
<path d="M405.2,293.8 A14.8,7.6 0 0 0 434.8,293.8" fill="none" stroke="#2c2c2c" stroke-width="3.2" stroke-linecap="round" stroke-linejoin="round"/>
<path d="M405.2,293.8 A14.8,7.6 0 0 0 434.8,293.8" fill="none" stroke="#a8a8a8" stroke-width="1.0" stroke-linecap="round" stroke-linejoin="round"/>
<path d="M405.40000000000003,299.8 A14.2,7.6 0 0 0 433.8,299.8" fill="none" stroke="#2c2c2c" stroke-width="3.2" stroke-linecap="round" stroke-linejoin="round"/>
<path d="M405.40000000000003,299.8 A14.2,7.6 0 0 0 433.8,299.8" fill="none" stroke="#a8a8a8" stroke-width="1.0" stroke-linecap="round" stroke-linejoin="round"/>
<path d="M431.9,303.7 L443.30,293.3 L448.70,303.9 L456.35,293.3 L461.75,303.9 L469.40,293.3 L474.80,303.9 L482.45,293.3 L487.85,303.9 L495.50,293.3 L498.9,296.2" fill="none" stroke="#2c2c2c" stroke-width="2.0" stroke-linecap="round" stroke-linejoin="round"/>
<path d="M433.1,306.3 L444.50,295.90000000000003 L449.90,306.5 L457.55,295.90000000000003 L462.95,306.5 L470.60,295.90000000000003 L476.00,306.5 L483.65,295.90000000000003 L489.05,306.5 L496.70,295.90000000000003 L500.1,298.8" fill="none" stroke="#2c2c2c" stroke-width="2.0" stroke-linecap="round" stroke-linejoin="round"/>
<path d="M449.2,260.6 L461.4,266.6 L458.6,277.2 L438.0,277.2 L435.2,266.6 Z" fill="url(#hdac)" stroke="#222" stroke-width="0.5"/>
<text x="448.3" y="272.4" font-size="5.6" font-weight="bold" fill="#fff" text-anchor="middle" font-family="Liberation Sans, sans-serif">HDAC6</text>
<ellipse cx="476.6" cy="272.0" rx="19" ry="8.0" fill="#d8e4f7" stroke="#8aa6d6" stroke-width="0.6"/>
<text x="475.8" y="274.8" font-size="6.4" font-weight="bold" fill="#1f3864" text-anchor="middle" font-family="Liberation Sans, sans-serif">WASp</text>
<path d="M508.6,250 L519.4,271.6 L498.2,271.6 Z" fill="#f2ae52" stroke="#d8922e" stroke-width="0.5"/>
<text x="509" y="268.4" font-size="5.8" font-weight="bold" fill="#3a2000" text-anchor="middle" font-family="Liberation Sans, sans-serif">p65</text>
<g transform="translate(455.8,286.3) rotate(12)"><rect x="-12.4" y="-5" width="24.8" height="10" fill="#d7ee8f" stroke="#a3c44e" stroke-width="0.6"/><text x="0.5" y="2.5" font-size="6.6" font-weight="bold" fill="#2a2a2a" text-anchor="middle" font-family="Liberation Sans, sans-serif">p300</text></g>
<path d="M472.5,281.4 L501.5,281.4 L505,286 L501.5,290.8 L472.5,290.8 L471,286 Z" fill="url(#commd)" stroke="#8a70c8" stroke-width="0.4"/>
<text x="488" y="288.4" font-size="6.0" font-weight="bold" fill="#fff" text-anchor="middle" font-family="Liberation Sans, sans-serif">COMMD1</text>
</svg>
</body></html>
